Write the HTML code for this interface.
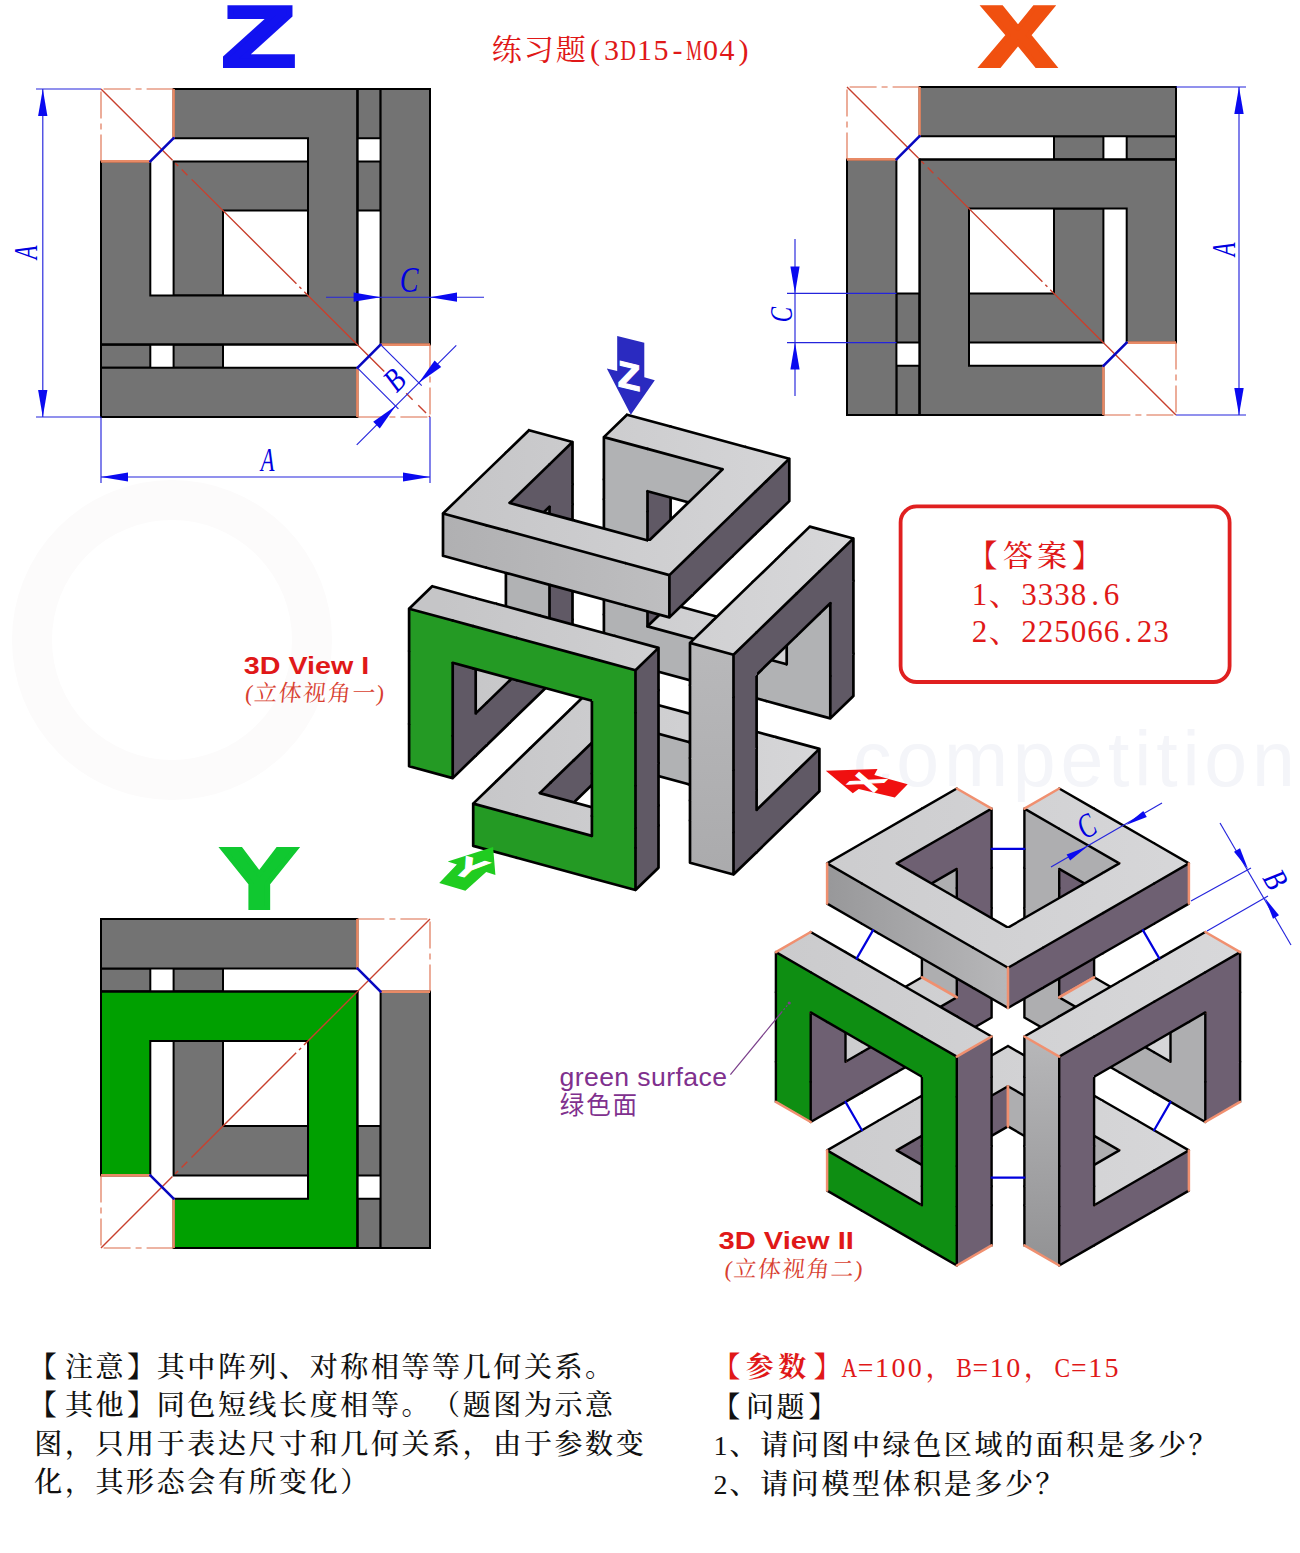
<!DOCTYPE html>
<html lang="zh"><head><meta charset="utf-8"><title>练习题(3D15-M04)</title>
<style>html,body{margin:0;padding:0;background:#fff}svg{display:block}</style></head>
<body><svg width="1300" height="1553" viewBox="0 0 1300 1553">
<rect width="1300" height="1553" fill="#fff"/>
<g id="wm" fill="#f5f6fa">
<circle cx="172" cy="640" r="140" fill="none" stroke="#fcfbfb" stroke-width="40"/>
<text x="853" y="786" font-family="'Liberation Sans',sans-serif" font-size="77" letter-spacing="4.8" fill="#f4f5f9">competition</text>
</g>
<g id="zview">
<polygon points="173.6,161.4 308,161.4 308,210.6 223,210.6 223,295.4 173.6,295.4" fill="#737373" stroke="#000" stroke-width="2.0" stroke-linejoin="miter"/>
<polygon points="357.4,89 380.6,89 380.6,138.2 357.4,138.2" fill="#737373" stroke="#000" stroke-width="2.0" stroke-linejoin="miter"/>
<polygon points="101,344.6 101,367.8 150.3,367.8 150.3,344.6" fill="#737373" stroke="#000" stroke-width="2.0" stroke-linejoin="miter"/>
<polygon points="357.4,161.4 380.6,161.4 380.6,210.6 357.4,210.6" fill="#737373" stroke="#000" stroke-width="2.0" stroke-linejoin="miter"/>
<polygon points="173.6,344.6 173.6,367.8 223,367.8 223,344.6" fill="#737373" stroke="#000" stroke-width="2.0" stroke-linejoin="miter"/>
<polygon points="380.6,89 430,89 430,344.6 380.6,344.6" fill="#737373" stroke="#000" stroke-width="2.0" stroke-linejoin="miter"/>
<polygon points="101,367.8 101,417 357.4,417 357.4,367.8" fill="#737373" stroke="#000" stroke-width="2.0" stroke-linejoin="miter"/>
<polygon points="173.6,89 357.4,89 357.4,344.6 101,344.6 101,161.4 150.3,161.4 150.3,295.4 308,295.4 308,138.2 173.6,138.2" fill="#737373" stroke="#000" stroke-width="2.0" stroke-linejoin="miter"/>
<line x1="357.4" y1="89" x2="357.4" y2="344.6" stroke="#000" stroke-width="2.0" stroke-linecap="square"/>
<line x1="101" y1="344.6" x2="357.4" y2="344.6" stroke="#000" stroke-width="2.0" stroke-linecap="square"/>
<line x1="173.6" y1="89" x2="173.6" y2="138.2" stroke="#e88a66" stroke-width="2.6" stroke-linecap="butt"/>
<line x1="101" y1="161.4" x2="150.3" y2="161.4" stroke="#e88a66" stroke-width="2.6" stroke-linecap="butt"/>
<line x1="380.6" y1="344.6" x2="430" y2="344.6" stroke="#e88a66" stroke-width="2.6" stroke-linecap="butt"/>
<line x1="357.4" y1="367.8" x2="357.4" y2="417" stroke="#e88a66" stroke-width="2.6" stroke-linecap="butt"/>
<line x1="173.6" y1="89" x2="101" y2="89" stroke="#dc6a48" stroke-width="1.1" stroke-dasharray="27 5 6 5" stroke-linecap="butt"/>
<line x1="101" y1="161.4" x2="101" y2="89" stroke="#dc6a48" stroke-width="1.1" stroke-dasharray="27 5 6 5" stroke-linecap="butt"/>
<line x1="430" y1="344.6" x2="430" y2="417" stroke="#dc6a48" stroke-width="1.1" stroke-dasharray="27 5 6 5" stroke-linecap="butt"/>
<line x1="357.4" y1="417" x2="430" y2="417" stroke="#dc6a48" stroke-width="1.1" stroke-dasharray="27 5 6 5" stroke-linecap="butt"/>
<line x1="101" y1="89" x2="430" y2="417" stroke="#c8402e" stroke-width="1.4" stroke-dasharray="101 4 4 5 8 6 148 4 3 4 113 31 9 8 11 4 2 100" stroke-linecap="butt"/>
<line x1="150.3" y1="161.4" x2="173.6" y2="138.2" stroke="#0808c0" stroke-width="2.6" stroke-linecap="round"/>
<line x1="357.4" y1="367.8" x2="380.6" y2="344.6" stroke="#0808c0" stroke-width="2.6" stroke-linecap="round"/>
</g>
<g id="xview">
<polygon points="1103.4,342.6 969,342.6 969,293.4 1054,293.4 1054,208.6 1103.4,208.6" fill="#737373" stroke="#000" stroke-width="2.0" stroke-linejoin="miter"/>
<polygon points="919.6,415 896.4,415 896.4,365.8 919.6,365.8" fill="#737373" stroke="#000" stroke-width="2.0" stroke-linejoin="miter"/>
<polygon points="1176,159.4 1176,136.2 1126.7,136.2 1126.7,159.4" fill="#737373" stroke="#000" stroke-width="2.0" stroke-linejoin="miter"/>
<polygon points="919.6,342.6 896.4,342.6 896.4,293.4 919.6,293.4" fill="#737373" stroke="#000" stroke-width="2.0" stroke-linejoin="miter"/>
<polygon points="1103.4,159.4 1103.4,136.2 1054,136.2 1054,159.4" fill="#737373" stroke="#000" stroke-width="2.0" stroke-linejoin="miter"/>
<polygon points="896.4,415 847,415 847,159.4 896.4,159.4" fill="#737373" stroke="#000" stroke-width="2.0" stroke-linejoin="miter"/>
<polygon points="1176,136.2 1176,87 919.6,87 919.6,136.2" fill="#737373" stroke="#000" stroke-width="2.0" stroke-linejoin="miter"/>
<polygon points="1103.4,415 919.6,415 919.6,159.4 1176,159.4 1176,342.6 1126.7,342.6 1126.7,208.6 969,208.6 969,365.8 1103.4,365.8" fill="#737373" stroke="#000" stroke-width="2.0" stroke-linejoin="miter"/>
<line x1="919.6" y1="415" x2="919.6" y2="159.4" stroke="#000" stroke-width="2.0" stroke-linecap="square"/>
<line x1="1176" y1="159.4" x2="919.6" y2="159.4" stroke="#000" stroke-width="2.0" stroke-linecap="square"/>
<line x1="1103.4" y1="415" x2="1103.4" y2="365.8" stroke="#e88a66" stroke-width="2.6" stroke-linecap="butt"/>
<line x1="1176" y1="342.6" x2="1126.7" y2="342.6" stroke="#e88a66" stroke-width="2.6" stroke-linecap="butt"/>
<line x1="896.4" y1="159.4" x2="847" y2="159.4" stroke="#e88a66" stroke-width="2.6" stroke-linecap="butt"/>
<line x1="919.6" y1="136.2" x2="919.6" y2="87" stroke="#e88a66" stroke-width="2.6" stroke-linecap="butt"/>
<line x1="1103.4" y1="415" x2="1176" y2="415" stroke="#dc6a48" stroke-width="1.1" stroke-dasharray="27 5 6 5" stroke-linecap="butt"/>
<line x1="1176" y1="342.6" x2="1176" y2="415" stroke="#dc6a48" stroke-width="1.1" stroke-dasharray="27 5 6 5" stroke-linecap="butt"/>
<line x1="847" y1="159.4" x2="847" y2="87" stroke="#dc6a48" stroke-width="1.1" stroke-dasharray="27 5 6 5" stroke-linecap="butt"/>
<line x1="919.6" y1="87" x2="847" y2="87" stroke="#dc6a48" stroke-width="1.1" stroke-dasharray="27 5 6 5" stroke-linecap="butt"/>
<line x1="847" y1="87" x2="1176" y2="415" stroke="#c8402e" stroke-width="1.4" stroke-dasharray="101 4 4 5 8 6 148 4 3 4 300" stroke-linecap="butt"/>
<line x1="1126.7" y1="342.6" x2="1103.4" y2="365.8" stroke="#0808c0" stroke-width="2.6" stroke-linecap="round"/>
<line x1="919.6" y1="136.2" x2="896.4" y2="159.4" stroke="#0808c0" stroke-width="2.6" stroke-linecap="round"/>
</g>
<g id="yview">
<polygon points="173.6,1175.4 308,1175.4 308,1126 223,1126 223,1041 173.6,1041" fill="#737373" stroke="#000" stroke-width="2.0" stroke-linejoin="miter"/>
<polygon points="357.4,1248 380.6,1248 380.6,1198.7 357.4,1198.7" fill="#737373" stroke="#000" stroke-width="2.0" stroke-linejoin="miter"/>
<polygon points="101,991.6 101,968.4 150.3,968.4 150.3,991.6" fill="#737373" stroke="#000" stroke-width="2.0" stroke-linejoin="miter"/>
<polygon points="357.4,1175.4 380.6,1175.4 380.6,1126 357.4,1126" fill="#737373" stroke="#000" stroke-width="2.0" stroke-linejoin="miter"/>
<polygon points="173.6,991.6 173.6,968.4 223,968.4 223,991.6" fill="#737373" stroke="#000" stroke-width="2.0" stroke-linejoin="miter"/>
<polygon points="380.6,1248 430,1248 430,991.6 380.6,991.6" fill="#737373" stroke="#000" stroke-width="2.0" stroke-linejoin="miter"/>
<polygon points="101,968.4 101,919 357.4,919 357.4,968.4" fill="#737373" stroke="#000" stroke-width="2.0" stroke-linejoin="miter"/>
<polygon points="173.6,1248 357.4,1248 357.4,991.6 101,991.6 101,1175.4 150.3,1175.4 150.3,1041 308,1041 308,1198.7 173.6,1198.7" fill="#00a000" stroke="#000" stroke-width="2.0" stroke-linejoin="miter"/>
<line x1="357.4" y1="1248" x2="357.4" y2="991.6" stroke="#000" stroke-width="2.0" stroke-linecap="square"/>
<line x1="101" y1="991.6" x2="357.4" y2="991.6" stroke="#000" stroke-width="2.0" stroke-linecap="square"/>
<line x1="173.6" y1="1248" x2="173.6" y2="1198.7" stroke="#e88a66" stroke-width="2.6" stroke-linecap="butt"/>
<line x1="101" y1="1175.4" x2="150.3" y2="1175.4" stroke="#e88a66" stroke-width="2.6" stroke-linecap="butt"/>
<line x1="380.6" y1="991.6" x2="430" y2="991.6" stroke="#e88a66" stroke-width="2.6" stroke-linecap="butt"/>
<line x1="357.4" y1="968.4" x2="357.4" y2="919" stroke="#e88a66" stroke-width="2.6" stroke-linecap="butt"/>
<line x1="173.6" y1="1248" x2="101" y2="1248" stroke="#dc6a48" stroke-width="1.1" stroke-dasharray="27 5 6 5" stroke-linecap="butt"/>
<line x1="101" y1="1175.4" x2="101" y2="1248" stroke="#dc6a48" stroke-width="1.1" stroke-dasharray="27 5 6 5" stroke-linecap="butt"/>
<line x1="430" y1="991.6" x2="430" y2="919" stroke="#dc6a48" stroke-width="1.1" stroke-dasharray="27 5 6 5" stroke-linecap="butt"/>
<line x1="357.4" y1="919" x2="430" y2="919" stroke="#dc6a48" stroke-width="1.1" stroke-dasharray="27 5 6 5" stroke-linecap="butt"/>
<line x1="101" y1="1248" x2="430" y2="919" stroke="#c8402e" stroke-width="1.4" stroke-dasharray="101 4 4 5 8 6 148 4 3 4 300" stroke-linecap="butt"/>
<line x1="150.3" y1="1175.4" x2="173.6" y2="1198.7" stroke="#0808c0" stroke-width="2.6" stroke-linecap="round"/>
<line x1="357.4" y1="968.4" x2="380.6" y2="991.6" stroke="#0808c0" stroke-width="2.6" stroke-linecap="round"/>
</g>
<g id="zdim">
<line x1="36" y1="89" x2="101" y2="89" stroke="#2424dc" stroke-width="1.15" />
<line x1="36" y1="417" x2="101" y2="417" stroke="#2424dc" stroke-width="1.15" />
<line x1="42.8" y1="89" x2="42.8" y2="417" stroke="#2424dc" stroke-width="1.15" />
<polygon points="42.8,89 47.4,116 38.1,116" fill="#0a0af0"/>
<polygon points="42.8,417 38.1,390 47.4,390" fill="#0a0af0"/>
<text transform="translate(36.8 252.4) rotate(-90) scale(0.68 1)" font-family="'Liberation Serif',serif" font-style="italic" font-size="33" fill="#0000e0" text-anchor="middle">A</text>
<line x1="101" y1="417" x2="101" y2="483" stroke="#2424dc" stroke-width="1.15" />
<line x1="430" y1="417" x2="430" y2="483" stroke="#2424dc" stroke-width="1.15" />
<line x1="101" y1="477" x2="430" y2="477" stroke="#2424dc" stroke-width="1.15" />
<polygon points="101,477 128,472.4 128,481.6" fill="#0a0af0"/>
<polygon points="430,477 403,481.6 403,472.4" fill="#0a0af0"/>
<text transform="translate(267.5 471) rotate(0) scale(0.68 1)" font-family="'Liberation Serif',serif" font-style="italic" font-size="33" fill="#0000e0" text-anchor="middle">A</text>
<line x1="326" y1="297.2" x2="484" y2="297.2" stroke="#2424dc" stroke-width="1.15" />
<polygon points="380.6,297.2 353.6,301.8 353.6,292.6" fill="#0a0af0"/>
<polygon points="430,297.2 457,292.6 457,301.8" fill="#0a0af0"/>
<text transform="translate(409 292) rotate(0) scale(0.8 1)" font-family="'Liberation Serif',serif" font-style="italic" font-size="35" fill="#0000e0" text-anchor="middle">C</text>
<line x1="357.4" y1="367.8" x2="398.4" y2="408.8" stroke="#2424dc" stroke-width="1.15" />
<line x1="380.6" y1="344.6" x2="421.7" y2="385.6" stroke="#2424dc" stroke-width="1.15" />
<line x1="356.7" y1="444.9" x2="456.3" y2="345.3" stroke="#2424dc" stroke-width="1.15" />
<polygon points="395.6,406 379.8,428.4 373.2,421.8" fill="#0a0af0"/>
<polygon points="418.8,382.8 434.6,360.4 441.2,367" fill="#0a0af0"/>
<text transform="translate(402.2 387.9) rotate(-45) scale(0.8 1)" font-family="'Liberation Serif',serif" font-style="italic" font-size="33" fill="#0000e0" text-anchor="middle">B</text>
</g>
<g id="xdim">
<line x1="1176" y1="87" x2="1246" y2="87" stroke="#2424dc" stroke-width="1.15" />
<line x1="1176" y1="415" x2="1246" y2="415" stroke="#2424dc" stroke-width="1.15" />
<line x1="1239" y1="87" x2="1239" y2="415" stroke="#2424dc" stroke-width="1.15" />
<polygon points="1239,87 1243.7,114 1234.3,114" fill="#0a0af0"/>
<polygon points="1239,415 1234.3,388 1243.7,388" fill="#0a0af0"/>
<text transform="translate(1235.4 249.4) rotate(-90) scale(0.68 1)" font-family="'Liberation Serif',serif" font-style="italic" font-size="33" fill="#0000e0" text-anchor="middle">A</text>
<line x1="787" y1="293.4" x2="896.4" y2="293.4" stroke="#2424dc" stroke-width="1.15" />
<line x1="787" y1="342.6" x2="896.4" y2="342.6" stroke="#2424dc" stroke-width="1.15" />
<line x1="795" y1="239" x2="795" y2="396" stroke="#2424dc" stroke-width="1.15" />
<polygon points="795,293.4 790.4,266.4 799.6,266.4" fill="#0a0af0"/>
<polygon points="795,342.6 799.6,369.6 790.4,369.6" fill="#0a0af0"/>
<text transform="translate(792 314.5) rotate(-90) scale(0.72 1)" font-family="'Liberation Serif',serif" font-style="italic" font-size="32" fill="#0000e0" text-anchor="middle">C</text>
</g>
<defs>
<linearGradient id="g1t" gradientUnits="userSpaceOnUse" x1="440" y1="0" x2="860" y2="0"><stop offset="0" stop-color="#c5c5c7"/><stop offset="1" stop-color="#d8d8da"/></linearGradient>
<linearGradient id="g1v" gradientUnits="userSpaceOnUse" x1="0" y1="420" x2="0" y2="900"><stop offset="0" stop-color="#c6c6c8"/><stop offset="1" stop-color="#a9a9ab"/></linearGradient>
<linearGradient id="g1w" gradientUnits="userSpaceOnUse" x1="443" y1="0" x2="670" y2="0"><stop offset="0" stop-color="#b0b0b2"/><stop offset="1" stop-color="#bebec0"/></linearGradient>
<linearGradient id="g2v" gradientUnits="userSpaceOnUse" x1="828" y1="0" x2="1008" y2="0"><stop offset="0" stop-color="#98989a"/><stop offset="1" stop-color="#b7b7b9"/></linearGradient>
<linearGradient id="g2x" gradientUnits="userSpaceOnUse" x1="0" y1="1045" x2="0" y2="1265"><stop offset="0" stop-color="#b6b6b8"/><stop offset="1" stop-color="#929294"/></linearGradient>
<linearGradient id="g2t" gradientUnits="userSpaceOnUse" x1="780" y1="0" x2="1240" y2="0"><stop offset="0" stop-color="#cbcbcd"/><stop offset="1" stop-color="#d8d8da"/></linearGradient>
</defs>
<g id="view1">
<g stroke-linecap="round" stroke-linejoin="round" shape-rendering="crispEdges">
<polygon points="572.5,661.8 549.5,684.2 549.5,641.9 572.5,619.5" fill="#605965"/>
<path d="M572.5 661.8L572.5 619.5M572.5 661.8L549.5 684.2" stroke="#000" stroke-width="2.7" fill="none" shape-rendering="geometricPrecision"/>
<polygon points="572.5,619.5 549.5,641.9 549.5,569 572.5,546.6" fill="#605965"/>
<polygon points="505.9,630 549.5,641.9 549.5,569 505.9,557.1" fill="#b1b2b4"/>
<path d="M572.5 619.5L572.5 546.6M549.5 641.9L549.5 569M505.9 630L505.9 557.1M549.5 641.9L549.5 569M505.9 630L549.5 641.9" stroke="#000" stroke-width="2.7" fill="none" shape-rendering="geometricPrecision"/>
<polygon points="572.5,546.6 549.5,569 549.5,526.7 572.5,504.3" fill="#605965"/>
<polygon points="505.9,557.1 549.5,569 549.5,526.7 505.9,514.8" fill="#b1b2b4"/>
<path d="M572.5 546.6L572.5 504.3M549.5 569L549.5 526.7M505.9 557.1L505.9 514.8M549.5 569L549.5 526.7" stroke="#000" stroke-width="2.7" fill="none" shape-rendering="geometricPrecision"/>
<polygon points="572.5,504.3 549.5,526.7 549.5,506.7 572.5,484.3" fill="#605965"/>
<polygon points="505.9,514.8 549.5,526.7 549.5,506.7 505.9,494.9" fill="#b1b2b4"/>
<path d="M572.5 504.3L572.5 484.3M549.5 526.7L549.5 506.7M505.9 514.8L505.9 494.9M549.5 526.7L549.5 506.7M505.9 494.9L549.5 506.7" stroke="#000" stroke-width="2.7" fill="none" shape-rendering="geometricPrecision"/>
<polygon points="572.5,484.3 549.5,506.7 549.5,464.4 572.5,442" fill="#605965"/>
<polygon points="529,430.2 572.5,442 549.5,464.4 505.9,452.6" fill="url(#g1t)"/>
<path d="M572.5 484.3L572.5 442M572.5 442L549.5 464.4M529 430.2L505.9 452.6M572.5 442L549.5 464.4M529 430.2L572.5 442" stroke="#000" stroke-width="2.7" fill="none" shape-rendering="geometricPrecision"/>
<polygon points="549.5,684.2 509.7,722.8 509.7,680.5 549.5,641.9" fill="#605965"/>
<polygon points="505.9,630 549.5,641.9 509.7,680.5 466.1,668.6" fill="url(#g1t)"/>
<path d="M549.5 684.2L509.7 722.8M549.5 641.9L509.7 680.5M505.9 630L466.1 668.6M549.5 641.9L509.7 680.5M505.9 630L549.5 641.9" stroke="#000" stroke-width="2.7" fill="none" shape-rendering="geometricPrecision"/>
<polygon points="549.5,506.7 509.7,545.3 509.7,503 549.5,464.4" fill="#605965"/>
<polygon points="505.9,452.6 549.5,464.4 509.7,503 466.1,491.1" fill="url(#g1t)"/>
<path d="M509.7 545.3L509.7 503M549.5 506.7L509.7 545.3M549.5 464.4L509.7 503M505.9 452.6L466.1 491.1M549.5 464.4L509.7 503" stroke="#000" stroke-width="2.7" fill="none" shape-rendering="geometricPrecision"/>
<polygon points="509.7,722.8 486.6,745.2 486.6,702.9 509.7,680.5" fill="#605965"/>
<polygon points="466.1,668.6 509.7,680.5 486.6,702.9 443,691" fill="url(#g1t)"/>
<path d="M509.7 722.8L486.6 745.2M509.7 680.5L486.6 702.9M466.1 668.6L443 691M509.7 680.5L486.6 702.9" stroke="#000" stroke-width="2.7" fill="none" shape-rendering="geometricPrecision"/>
<polygon points="443,555.8 486.6,567.7 486.6,525.4 443,513.5" fill="url(#g1w)"/>
<polygon points="466.1,491.1 509.7,503 486.6,525.4 443,513.5" fill="url(#g1t)"/>
<path d="M443 555.8L443 513.5M443 555.8L486.6 567.7M443 513.5L486.6 525.4M466.1 491.1L443 513.5M443 513.5L486.6 525.4" stroke="#000" stroke-width="2.7" fill="none" shape-rendering="geometricPrecision"/>
<polygon points="486.6,745.2 475.7,755.7 475.7,713.4 486.6,702.9" fill="#605965"/>
<polygon points="443,691 486.6,702.9 475.7,713.4 432.2,701.5" fill="url(#g1t)"/>
<path d="M486.6 745.2L475.7 755.7M486.6 702.9L475.7 713.4M443 691L432.2 701.5M486.6 702.9L475.7 713.4M432.2 701.5L475.7 713.4" stroke="#000" stroke-width="2.7" fill="none" shape-rendering="geometricPrecision"/>
<polygon points="475.7,755.7 452.7,778.1 452.7,735.8 475.7,713.4" fill="#605965"/>
<polygon points="409.1,766.2 452.7,778.1 452.7,735.8 409.1,723.9" fill="#249a24"/>
<path d="M452.7 778.1L452.7 735.8M475.7 755.7L452.7 778.1M409.1 766.2L409.1 723.9M452.7 778.1L452.7 735.8M409.1 766.2L452.7 778.1" stroke="#000" stroke-width="2.7" fill="none" shape-rendering="geometricPrecision"/>
<polygon points="475.7,713.4 452.7,735.8 452.7,662.8 475.7,640.5" fill="#605965"/>
<polygon points="409.1,723.9 452.7,735.8 452.7,662.8 409.1,651" fill="#249a24"/>
<path d="M475.7 713.4L475.7 640.5M452.7 735.8L452.7 662.8M475.7 640.5L452.7 662.8M409.1 723.9L409.1 651M452.7 735.8L452.7 662.8" stroke="#000" stroke-width="2.7" fill="none" shape-rendering="geometricPrecision"/>
<polygon points="409.1,651 452.7,662.8 452.7,620.5 409.1,608.7" fill="#249a24"/>
<polygon points="432.2,586.3 475.7,598.2 452.7,620.5 409.1,608.7" fill="url(#g1t)"/>
<path d="M409.1 651L409.1 608.7M409.1 608.7L452.7 620.5M432.2 586.3L409.1 608.7M432.2 586.3L475.7 598.2M409.1 608.7L452.7 620.5" stroke="#000" stroke-width="2.7" fill="none" shape-rendering="geometricPrecision"/>
<polygon points="486.6,567.7 507.1,573.2 507.1,530.9 486.6,525.4" fill="url(#g1w)"/>
<polygon points="509.7,503 530.2,508.6 507.1,530.9 486.6,525.4" fill="url(#g1t)"/>
<path d="M486.6 567.7L507.1 573.2M486.6 525.4L507.1 530.9M509.7 503L530.2 508.6M486.6 525.4L507.1 530.9" stroke="#000" stroke-width="2.7" fill="none" shape-rendering="geometricPrecision"/>
<polygon points="452.7,662.8 473.2,668.4 473.2,626.1 452.7,620.5" fill="#249a24"/>
<polygon points="475.7,598.2 496.3,603.7 473.2,626.1 452.7,620.5" fill="url(#g1t)"/>
<path d="M452.7 662.8L473.2 668.4M452.7 620.5L473.2 626.1M475.7 598.2L496.3 603.7M452.7 620.5L473.2 626.1" stroke="#000" stroke-width="2.7" fill="none" shape-rendering="geometricPrecision"/>
<polygon points="603.9,656.9 647.5,668.7 647.5,626.4 603.9,614.6" fill="#b1b2b4"/>
<path d="M603.9 656.9L603.9 614.6M603.9 656.9L647.5 668.7" stroke="#000" stroke-width="2.7" fill="none" shape-rendering="geometricPrecision"/>
<polygon points="670.6,604 647.5,626.4 647.5,553.5 670.6,531.1" fill="#605965"/>
<polygon points="603.9,614.6 647.5,626.4 647.5,553.5 603.9,541.6" fill="#b1b2b4"/>
<path d="M670.6 604L670.6 531.1M647.5 626.4L647.5 553.5M670.6 604L647.5 626.4M603.9 614.6L603.9 541.6M647.5 626.4L647.5 553.5" stroke="#000" stroke-width="2.7" fill="none" shape-rendering="geometricPrecision"/>
<polygon points="670.6,531.1 647.5,553.5 647.5,511.2 670.6,488.8" fill="#605965"/>
<polygon points="603.9,541.6 647.5,553.5 647.5,511.2 603.9,499.3" fill="#b1b2b4"/>
<path d="M670.6 531.1L670.6 488.8M647.5 553.5L647.5 511.2M603.9 541.6L603.9 499.3M647.5 553.5L647.5 511.2" stroke="#000" stroke-width="2.7" fill="none" shape-rendering="geometricPrecision"/>
<polygon points="670.6,488.8 647.5,511.2 647.5,491.2 670.6,468.8" fill="#605965"/>
<polygon points="603.9,499.3 647.5,511.2 647.5,491.2 603.9,479.4" fill="#b1b2b4"/>
<path d="M670.6 488.8L670.6 468.8M647.5 511.2L647.5 491.2M670.6 468.8L647.5 491.2M603.9 499.3L603.9 479.4M647.5 511.2L647.5 491.2" stroke="#000" stroke-width="2.7" fill="none" shape-rendering="geometricPrecision"/>
<polygon points="603.9,479.4 647.5,491.2 647.5,448.9 603.9,437.1" fill="#b1b2b4"/>
<polygon points="627,414.7 670.6,426.5 647.5,448.9 603.9,437.1" fill="url(#g1t)"/>
<path d="M603.9 479.4L603.9 437.1M603.9 437.1L647.5 448.9M627 414.7L603.9 437.1M627 414.7L670.6 426.5M603.9 437.1L647.5 448.9" stroke="#000" stroke-width="2.7" fill="none" shape-rendering="geometricPrecision"/>
<polygon points="593.1,687.3 636.6,699.2 613.6,721.6 570,709.7" fill="url(#g1t)"/>
<path d="M593.1 687.3L570 709.7M593.1 687.3L636.6 699.2" stroke="#000" stroke-width="2.7" fill="none" shape-rendering="geometricPrecision"/>
<polygon points="613.6,763.9 573.8,802.5 573.8,760.2 613.6,721.6" fill="#605965"/>
<polygon points="570,709.7 613.6,721.6 573.8,760.2 530.2,748.3" fill="url(#g1t)"/>
<path d="M613.6 763.9L613.6 721.6M613.6 763.9L573.8 802.5M613.6 721.6L573.8 760.2M570 709.7L530.2 748.3M613.6 721.6L573.8 760.2" stroke="#000" stroke-width="2.7" fill="none" shape-rendering="geometricPrecision"/>
<polygon points="573.8,802.5 550.7,824.8 550.7,782.5 573.8,760.2" fill="#605965"/>
<polygon points="530.2,748.3 573.8,760.2 550.7,782.5 507.1,770.7" fill="url(#g1t)"/>
<path d="M573.8 802.5L550.7 824.8M573.8 760.2L550.7 782.5M530.2 748.3L507.1 770.7M573.8 760.2L550.7 782.5" stroke="#000" stroke-width="2.7" fill="none" shape-rendering="geometricPrecision"/>
<polygon points="507.1,573.2 550.7,585.1 550.7,542.8 507.1,530.9" fill="url(#g1w)"/>
<polygon points="530.2,508.6 573.8,520.4 550.7,542.8 507.1,530.9" fill="url(#g1t)"/>
<path d="M507.1 573.2L550.7 585.1M507.1 530.9L550.7 542.8M530.2 508.6L573.8 520.4M507.1 530.9L550.7 542.8" stroke="#000" stroke-width="2.7" fill="none" shape-rendering="geometricPrecision"/>
<polygon points="550.7,824.8 539.8,835.4 539.8,793.1 550.7,782.5" fill="#605965"/>
<polygon points="507.1,770.7 550.7,782.5 539.8,793.1 496.3,781.2" fill="url(#g1t)"/>
<path d="M539.8 835.4L539.8 793.1M550.7 824.8L539.8 835.4M550.7 782.5L539.8 793.1M507.1 770.7L496.3 781.2M550.7 782.5L539.8 793.1" stroke="#000" stroke-width="2.7" fill="none" shape-rendering="geometricPrecision"/>
<polygon points="473.2,845.9 516.8,857.8 516.8,815.5 473.2,803.6" fill="#249a24"/>
<polygon points="496.3,781.2 539.8,793.1 516.8,815.5 473.2,803.6" fill="url(#g1t)"/>
<path d="M473.2 845.9L473.2 803.6M473.2 845.9L516.8 857.8M473.2 803.6L516.8 815.5M496.3 781.2L473.2 803.6M473.2 803.6L516.8 815.5" stroke="#000" stroke-width="2.7" fill="none" shape-rendering="geometricPrecision"/>
<polygon points="473.2,668.4 516.8,680.3 516.8,638 473.2,626.1" fill="#249a24"/>
<polygon points="496.3,603.7 539.8,615.6 516.8,638 473.2,626.1" fill="url(#g1t)"/>
<path d="M473.2 668.4L516.8 680.3M473.2 626.1L516.8 638M496.3 603.7L539.8 615.6M473.2 626.1L516.8 638" stroke="#000" stroke-width="2.7" fill="none" shape-rendering="geometricPrecision"/>
<polygon points="647.5,668.7 722.6,689.1 722.6,646.8 647.5,626.4" fill="#b1b2b4"/>
<polygon points="670.6,604 745.7,624.5 722.6,646.8 647.5,626.4" fill="url(#g1t)"/>
<path d="M647.5 668.7L722.6 689.1M647.5 626.4L722.6 646.8M670.6 604L647.5 626.4M670.6 604L745.7 624.5M647.5 626.4L722.6 646.8" stroke="#000" stroke-width="2.7" fill="none" shape-rendering="geometricPrecision"/>
<polygon points="647.5,491.2 722.6,511.6 722.6,469.3 647.5,448.9" fill="#b1b2b4"/>
<polygon points="670.6,426.5 745.7,447 722.6,469.3 647.5,448.9" fill="url(#g1t)"/>
<path d="M722.6 511.6L722.6 469.3M647.5 491.2L722.6 511.6M647.5 448.9L722.6 469.3M670.6 426.5L745.7 447M647.5 448.9L722.6 469.3" stroke="#000" stroke-width="2.7" fill="none" shape-rendering="geometricPrecision"/>
<polygon points="613.6,763.9 688.7,784.3 688.7,742 613.6,721.6" fill="#b1b2b4"/>
<polygon points="636.6,699.2 711.8,719.6 688.7,742 613.6,721.6" fill="url(#g1t)"/>
<path d="M613.6 763.9L613.6 721.6M613.6 763.9L688.7 784.3M613.6 721.6L688.7 742M636.6 699.2L711.8 719.6M613.6 721.6L688.7 742" stroke="#000" stroke-width="2.7" fill="none" shape-rendering="geometricPrecision"/>
<polygon points="550.7,585.1 625.8,605.5 625.8,563.2 550.7,542.8" fill="url(#g1w)"/>
<polygon points="573.8,520.4 648.9,540.8 625.8,563.2 550.7,542.8" fill="url(#g1t)"/>
<path d="M550.7 585.1L625.8 605.5M550.7 542.8L625.8 563.2M573.8 520.4L648.9 540.8M550.7 542.8L625.8 563.2" stroke="#000" stroke-width="2.7" fill="none" shape-rendering="geometricPrecision"/>
<polygon points="516.8,857.8 591.9,878.2 591.9,835.9 516.8,815.5" fill="#249a24"/>
<polygon points="539.8,793.1 615,813.5 591.9,835.9 516.8,815.5" fill="url(#g1t)"/>
<path d="M516.8 857.8L591.9 878.2M516.8 815.5L591.9 835.9M615 813.5L591.9 835.9M539.8 793.1L615 813.5M516.8 815.5L591.9 835.9" stroke="#000" stroke-width="2.7" fill="none" shape-rendering="geometricPrecision"/>
<polygon points="516.8,680.3 591.9,700.7 591.9,658.4 516.8,638" fill="#249a24"/>
<polygon points="539.8,615.6 615,636 591.9,658.4 516.8,638" fill="url(#g1t)"/>
<path d="M516.8 680.3L591.9 700.7M516.8 638L591.9 658.4M539.8 615.6L615 636M516.8 638L591.9 658.4" stroke="#000" stroke-width="2.7" fill="none" shape-rendering="geometricPrecision"/>
<polygon points="722.6,689.1 766.2,701 766.2,658.7 722.6,646.8" fill="#b1b2b4"/>
<polygon points="745.7,624.5 789.3,636.3 766.2,658.7 722.6,646.8" fill="url(#g1t)"/>
<path d="M722.6 689.1L766.2 701M722.6 646.8L766.2 658.7M745.7 624.5L789.3 636.3M722.6 646.8L766.2 658.7" stroke="#000" stroke-width="2.7" fill="none" shape-rendering="geometricPrecision"/>
<polygon points="789.3,501.1 766.2,523.5 766.2,481.2 789.3,458.8" fill="#605965"/>
<polygon points="745.7,447 789.3,458.8 766.2,481.2 722.6,469.3" fill="url(#g1t)"/>
<path d="M789.3 501.1L789.3 458.8M789.3 501.1L766.2 523.5M789.3 458.8L766.2 481.2M789.3 458.8L766.2 481.2M745.7 447L789.3 458.8" stroke="#000" stroke-width="2.7" fill="none" shape-rendering="geometricPrecision"/>
<polygon points="766.2,523.5 755.3,534 755.3,491.7 766.2,481.2" fill="#605965"/>
<polygon points="722.6,469.3 766.2,481.2 755.3,491.7 711.8,479.9" fill="url(#g1t)"/>
<path d="M766.2 523.5L755.3 534M766.2 481.2L755.3 491.7M722.6 469.3L711.8 479.9M766.2 481.2L755.3 491.7" stroke="#000" stroke-width="2.7" fill="none" shape-rendering="geometricPrecision"/>
<polygon points="688.7,784.3 732.3,796.2 732.3,753.8 688.7,742" fill="#b1b2b4"/>
<polygon points="711.8,719.6 755.3,731.5 732.3,753.8 688.7,742" fill="url(#g1t)"/>
<path d="M688.7 784.3L732.3 796.2M688.7 742L732.3 753.8M711.8 719.6L755.3 731.5M688.7 742L732.3 753.8" stroke="#000" stroke-width="2.7" fill="none" shape-rendering="geometricPrecision"/>
<polygon points="755.3,534 732.3,556.4 732.3,514.1 755.3,491.7" fill="#605965"/>
<polygon points="711.8,479.9 755.3,491.7 732.3,514.1 688.7,502.3" fill="url(#g1t)"/>
<path d="M755.3 534L732.3 556.4M755.3 491.7L732.3 514.1M711.8 479.9L688.7 502.3M755.3 491.7L732.3 514.1" stroke="#000" stroke-width="2.7" fill="none" shape-rendering="geometricPrecision"/>
<polygon points="732.3,556.4 692.5,595 692.5,552.7 732.3,514.1" fill="#605965"/>
<polygon points="688.7,502.3 732.3,514.1 692.5,552.7 648.9,540.8" fill="url(#g1t)"/>
<path d="M732.3 556.4L692.5 595M732.3 514.1L692.5 552.7M688.7 502.3L648.9 540.8M732.3 514.1L692.5 552.7" stroke="#000" stroke-width="2.7" fill="none" shape-rendering="geometricPrecision"/>
<polygon points="692.5,595 669.4,617.4 669.4,575.1 692.5,552.7" fill="#605965"/>
<polygon points="625.8,605.5 669.4,617.4 669.4,575.1 625.8,563.2" fill="url(#g1w)"/>
<polygon points="648.9,540.8 692.5,552.7 669.4,575.1 625.8,563.2" fill="url(#g1t)"/>
<path d="M669.4 617.4L669.4 575.1M692.5 595L669.4 617.4M692.5 552.7L669.4 575.1M669.4 617.4L669.4 575.1M625.8 605.5L669.4 617.4M625.8 563.2L669.4 575.1M692.5 552.7L669.4 575.1M625.8 563.2L669.4 575.1" stroke="#000" stroke-width="2.7" fill="none" shape-rendering="geometricPrecision"/>
<polygon points="658.5,867.7 635.5,890 635.5,847.7 658.5,825.4" fill="#605965"/>
<polygon points="591.9,878.2 635.5,890 635.5,847.7 591.9,835.9" fill="#249a24"/>
<path d="M658.5 867.7L658.5 825.4M635.5 890L635.5 847.7M658.5 867.7L635.5 890M635.5 890L635.5 847.7M591.9 878.2L635.5 890" stroke="#000" stroke-width="2.7" fill="none" shape-rendering="geometricPrecision"/>
<polygon points="658.5,825.4 635.5,847.7 635.5,827.8 658.5,805.4" fill="#605965"/>
<polygon points="591.9,835.9 635.5,847.7 635.5,827.8 591.9,815.9" fill="#249a24"/>
<path d="M658.5 825.4L658.5 805.4M635.5 847.7L635.5 827.8M591.9 835.9L591.9 815.9M635.5 847.7L635.5 827.8" stroke="#000" stroke-width="2.7" fill="none" shape-rendering="geometricPrecision"/>
<polygon points="658.5,805.4 635.5,827.8 635.5,785.5 658.5,763.1" fill="#605965"/>
<polygon points="591.9,815.9 635.5,827.8 635.5,785.5 591.9,773.6" fill="#249a24"/>
<path d="M658.5 805.4L658.5 763.1M635.5 827.8L635.5 785.5M591.9 815.9L591.9 773.6M635.5 827.8L635.5 785.5" stroke="#000" stroke-width="2.7" fill="none" shape-rendering="geometricPrecision"/>
<polygon points="658.5,763.1 635.5,785.5 635.5,712.5 658.5,690.2" fill="#605965"/>
<polygon points="591.9,773.6 635.5,785.5 635.5,712.5 591.9,700.7" fill="#249a24"/>
<path d="M658.5 763.1L658.5 690.2M635.5 785.5L635.5 712.5M591.9 773.6L591.9 700.7M635.5 785.5L635.5 712.5" stroke="#000" stroke-width="2.7" fill="none" shape-rendering="geometricPrecision"/>
<polygon points="658.5,690.2 635.5,712.5 635.5,670.2 658.5,647.9" fill="#605965"/>
<polygon points="591.9,700.7 635.5,712.5 635.5,670.2 591.9,658.4" fill="#249a24"/>
<polygon points="615,636 658.5,647.9 635.5,670.2 591.9,658.4" fill="url(#g1t)"/>
<path d="M658.5 690.2L658.5 647.9M635.5 712.5L635.5 670.2M658.5 647.9L635.5 670.2M635.5 712.5L635.5 670.2M591.9 658.4L635.5 670.2M658.5 647.9L635.5 670.2M615 636L658.5 647.9M591.9 658.4L635.5 670.2" stroke="#000" stroke-width="2.7" fill="none" shape-rendering="geometricPrecision"/>
<polygon points="766.2,701 786.7,706.6 786.7,664.3 766.2,658.7" fill="#b1b2b4"/>
<polygon points="789.3,636.3 809.8,641.9 786.7,664.3 766.2,658.7" fill="url(#g1t)"/>
<path d="M766.2 701L786.7 706.6M766.2 658.7L786.7 664.3M809.8 641.9L786.7 664.3M789.3 636.3L809.8 641.9M766.2 658.7L786.7 664.3" stroke="#000" stroke-width="2.7" fill="none" shape-rendering="geometricPrecision"/>
<polygon points="732.3,796.2 752.8,801.7 752.8,759.4 732.3,753.8" fill="#b1b2b4"/>
<polygon points="755.3,731.5 775.9,737.1 752.8,759.4 732.3,753.8" fill="url(#g1t)"/>
<path d="M752.8 801.7L752.8 759.4M732.3 796.2L752.8 801.7M732.3 753.8L752.8 759.4M755.3 731.5L775.9 737.1M732.3 753.8L752.8 759.4" stroke="#000" stroke-width="2.7" fill="none" shape-rendering="geometricPrecision"/>
<polygon points="853.4,696 830.3,718.4 830.3,676.1 853.4,653.7" fill="#605965"/>
<polygon points="786.7,706.6 830.3,718.4 830.3,676.1 786.7,664.3" fill="#b1b2b4"/>
<path d="M853.4 696L853.4 653.7M830.3 718.4L830.3 676.1M853.4 696L830.3 718.4M830.3 718.4L830.3 676.1M786.7 706.6L830.3 718.4" stroke="#000" stroke-width="2.7" fill="none" shape-rendering="geometricPrecision"/>
<polygon points="853.4,653.7 830.3,676.1 830.3,603.2 853.4,580.8" fill="#605965"/>
<polygon points="786.7,664.3 830.3,676.1 830.3,603.2 786.7,591.3" fill="#b1b2b4"/>
<path d="M853.4 653.7L853.4 580.8M830.3 676.1L830.3 603.2M786.7 664.3L786.7 591.3M830.3 676.1L830.3 603.2M786.7 591.3L830.3 603.2" stroke="#000" stroke-width="2.7" fill="none" shape-rendering="geometricPrecision"/>
<polygon points="853.4,580.8 830.3,603.2 830.3,560.9 853.4,538.5" fill="#605965"/>
<polygon points="809.8,526.6 853.4,538.5 830.3,560.9 786.7,549" fill="url(#g1t)"/>
<path d="M853.4 580.8L853.4 538.5M853.4 538.5L830.3 560.9M809.8 526.6L786.7 549M853.4 538.5L830.3 560.9M809.8 526.6L853.4 538.5" stroke="#000" stroke-width="2.7" fill="none" shape-rendering="geometricPrecision"/>
<polygon points="830.3,603.2 819.4,613.7 819.4,571.4 830.3,560.9" fill="#605965"/>
<polygon points="786.7,549 830.3,560.9 819.4,571.4 775.9,559.6" fill="url(#g1t)"/>
<path d="M830.3 603.2L819.4 613.7M830.3 560.9L819.4 571.4M786.7 549L775.9 559.6M830.3 560.9L819.4 571.4" stroke="#000" stroke-width="2.7" fill="none" shape-rendering="geometricPrecision"/>
<polygon points="819.4,791.2 796.4,813.6 796.4,771.3 819.4,748.9" fill="#605965"/>
<polygon points="775.9,737.1 819.4,748.9 796.4,771.3 752.8,759.4" fill="url(#g1t)"/>
<path d="M819.4 791.2L819.4 748.9M819.4 791.2L796.4 813.6M819.4 748.9L796.4 771.3M819.4 748.9L796.4 771.3M775.9 737.1L819.4 748.9" stroke="#000" stroke-width="2.7" fill="none" shape-rendering="geometricPrecision"/>
<polygon points="819.4,613.7 796.4,636.1 796.4,593.8 819.4,571.4" fill="#605965"/>
<polygon points="775.9,559.6 819.4,571.4 796.4,593.8 752.8,581.9" fill="url(#g1t)"/>
<path d="M819.4 613.7L796.4 636.1M819.4 571.4L796.4 593.8M775.9 559.6L752.8 581.9M819.4 571.4L796.4 593.8" stroke="#000" stroke-width="2.7" fill="none" shape-rendering="geometricPrecision"/>
<polygon points="796.4,813.6 756.6,852.2 756.6,809.9 796.4,771.3" fill="#605965"/>
<polygon points="752.8,759.4 796.4,771.3 756.6,809.9 713,798" fill="url(#g1t)"/>
<path d="M796.4 813.6L756.6 852.2M796.4 771.3L756.6 809.9M752.8 759.4L713 798M796.4 771.3L756.6 809.9M713 798L756.6 809.9" stroke="#000" stroke-width="2.7" fill="none" shape-rendering="geometricPrecision"/>
<polygon points="796.4,636.1 756.6,674.7 756.6,632.4 796.4,593.8" fill="#605965"/>
<polygon points="752.8,581.9 796.4,593.8 756.6,632.4 713,620.5" fill="url(#g1t)"/>
<path d="M796.4 636.1L756.6 674.7M796.4 593.8L756.6 632.4M752.8 581.9L713 620.5M796.4 593.8L756.6 632.4" stroke="#000" stroke-width="2.7" fill="none" shape-rendering="geometricPrecision"/>
<polygon points="756.6,852.2 733.5,874.5 733.5,832.2 756.6,809.9" fill="#605965"/>
<polygon points="690,862.7 733.5,874.5 733.5,832.2 690,820.4" fill="url(#g1v)"/>
<path d="M733.5 874.5L733.5 832.2M756.6 852.2L733.5 874.5M690 862.7L690 820.4M733.5 874.5L733.5 832.2M690 862.7L733.5 874.5" stroke="#000" stroke-width="2.7" fill="none" shape-rendering="geometricPrecision"/>
<polygon points="756.6,809.9 733.5,832.2 733.5,812.3 756.6,789.9" fill="#605965"/>
<polygon points="690,820.4 733.5,832.2 733.5,812.3 690,800.4" fill="url(#g1v)"/>
<path d="M756.6 809.9L756.6 789.9M733.5 832.2L733.5 812.3M690 820.4L690 800.4M733.5 832.2L733.5 812.3" stroke="#000" stroke-width="2.7" fill="none" shape-rendering="geometricPrecision"/>
<polygon points="756.6,789.9 733.5,812.3 733.5,770 756.6,747.6" fill="#605965"/>
<polygon points="690,800.4 733.5,812.3 733.5,770 690,758.1" fill="url(#g1v)"/>
<path d="M756.6 789.9L756.6 747.6M733.5 812.3L733.5 770M690 800.4L690 758.1M733.5 812.3L733.5 770" stroke="#000" stroke-width="2.7" fill="none" shape-rendering="geometricPrecision"/>
<polygon points="756.6,747.6 733.5,770 733.5,697.1 756.6,674.7" fill="#605965"/>
<polygon points="690,758.1 733.5,770 733.5,697.1 690,685.2" fill="url(#g1v)"/>
<path d="M756.6 747.6L756.6 674.7M733.5 770L733.5 697.1M690 758.1L690 685.2M733.5 770L733.5 697.1" stroke="#000" stroke-width="2.7" fill="none" shape-rendering="geometricPrecision"/>
<polygon points="756.6,674.7 733.5,697.1 733.5,654.7 756.6,632.4" fill="#605965"/>
<polygon points="690,685.2 733.5,697.1 733.5,654.7 690,642.9" fill="url(#g1v)"/>
<polygon points="713,620.5 756.6,632.4 733.5,654.7 690,642.9" fill="url(#g1t)"/>
<path d="M733.5 697.1L733.5 654.7M756.6 632.4L733.5 654.7M690 685.2L690 642.9M733.5 697.1L733.5 654.7M690 642.9L733.5 654.7M713 620.5L690 642.9M756.6 632.4L733.5 654.7M690 642.9L733.5 654.7" stroke="#000" stroke-width="2.7" fill="none" shape-rendering="geometricPrecision"/>
</g>
</g>
<g id="view2">
<g stroke-linecap="round" stroke-linejoin="round" shape-rendering="crispEdges">
<polygon points="991.6,1017.5 956.8,1037.6 956.8,997.4 991.6,977.3" fill="#6e6072"/>
<path d="M991.6 1017.5L991.6 977.3M991.6 1017.5L956.8 1037.6" stroke="#000" stroke-width="2.4" fill="none" shape-rendering="geometricPrecision"/>
<polygon points="991.6,977.3 956.8,997.4 956.8,928.1 991.6,908" fill="#6e6072"/>
<polygon points="921.9,977.3 956.8,997.4 956.8,928.1 921.9,908" fill="#aeaeb0"/>
<path d="M991.6 977.3L991.6 908M956.8 997.4L956.8 928.1M921.9 977.3L921.9 908M956.8 997.4L956.8 928.1" stroke="#000" stroke-width="2.4" fill="none" shape-rendering="geometricPrecision"/>
<path d="M921.9 977.3L956.8 997.4" stroke="#f09070" stroke-width="2.5" fill="none" shape-rendering="geometricPrecision"/>
<polygon points="991.6,908 956.8,928.1 956.8,887.9 991.6,867.8" fill="#6e6072"/>
<polygon points="921.9,908 956.8,928.1 956.8,887.9 921.9,867.8" fill="#aeaeb0"/>
<path d="M991.6 908L991.6 867.8M956.8 928.1L956.8 887.9M921.9 908L921.9 867.8M956.8 928.1L956.8 887.9" stroke="#000" stroke-width="2.4" fill="none" shape-rendering="geometricPrecision"/>
<polygon points="991.6,867.8 956.8,887.9 956.8,868.9 991.6,848.8" fill="#6e6072"/>
<polygon points="921.9,867.8 956.8,887.9 956.8,868.9 921.9,848.8" fill="#aeaeb0"/>
<path d="M991.6 867.8L991.6 848.8M956.8 887.9L956.8 868.9M921.9 867.8L921.9 848.8M956.8 887.9L956.8 868.9" stroke="#000" stroke-width="2.4" fill="none" shape-rendering="geometricPrecision"/>
<path d="M921.9 848.8L956.8 868.9" stroke="#f09070" stroke-width="2.5" fill="none" shape-rendering="geometricPrecision"/>
<polygon points="991.6,848.8 956.8,868.9 956.8,828.7 991.6,808.6" fill="#6e6072"/>
<polygon points="956.8,788.5 991.6,808.6 956.8,828.7 921.9,808.6" fill="url(#g2t)"/>
<path d="M991.6 848.8L991.6 808.6M991.6 808.6L956.8 828.7M956.8 788.5L921.9 808.6M991.6 808.6L956.8 828.7" stroke="#000" stroke-width="2.4" fill="none" shape-rendering="geometricPrecision"/>
<path d="M956.8 788.5L991.6 808.6" stroke="#f09070" stroke-width="2.5" fill="none" shape-rendering="geometricPrecision"/>
<polygon points="956.8,1037.6 896.7,1072.3 896.7,1032.1 956.8,997.4" fill="#6e6072"/>
<polygon points="921.9,977.3 956.8,997.4 896.7,1032.1 861.9,1012" fill="url(#g2t)"/>
<path d="M956.8 1037.6L896.7 1072.3M956.8 997.4L896.7 1032.1M921.9 977.3L861.9 1012M956.8 997.4L896.7 1032.1" stroke="#000" stroke-width="2.4" fill="none" shape-rendering="geometricPrecision"/>
<path d="M921.9 977.3L956.8 997.4" stroke="#f09070" stroke-width="2.5" fill="none" shape-rendering="geometricPrecision"/>
<polygon points="956.8,868.9 896.7,903.6 896.7,863.4 956.8,828.7" fill="#6e6072"/>
<polygon points="921.9,808.6 956.8,828.7 896.7,863.4 861.9,843.3" fill="url(#g2t)"/>
<path d="M956.8 868.9L896.7 903.6M956.8 828.7L896.7 863.4M921.9 808.6L861.9 843.3M956.8 828.7L896.7 863.4" stroke="#000" stroke-width="2.4" fill="none" shape-rendering="geometricPrecision"/>
<path d="M896.7 903.6L896.7 863.4" stroke="#f09070" stroke-width="2.5" fill="none" shape-rendering="geometricPrecision"/>
<polygon points="896.7,1072.3 861.9,1092.4 861.9,1052.2 896.7,1032.1" fill="#6e6072"/>
<polygon points="861.9,1012 896.7,1032.1 861.9,1052.2 827.1,1032.1" fill="url(#g2t)"/>
<path d="M896.7 1072.3L861.9 1092.4M896.7 1032.1L861.9 1052.2M861.9 1012L827.1 1032.1M896.7 1032.1L861.9 1052.2" stroke="#000" stroke-width="2.4" fill="none" shape-rendering="geometricPrecision"/>
<polygon points="827.1,903.6 861.9,923.7 861.9,883.5 827.1,863.4" fill="url(#g2v)"/>
<polygon points="861.9,843.3 896.7,863.4 861.9,883.5 827.1,863.4" fill="url(#g2t)"/>
<path d="M827.1 903.6L861.9 923.7M827.1 863.4L861.9 883.5M861.9 843.3L827.1 863.4M827.1 863.4L861.9 883.5" stroke="#000" stroke-width="2.4" fill="none" shape-rendering="geometricPrecision"/>
<path d="M827.1 903.6L827.1 863.4" stroke="#f09070" stroke-width="2.5" fill="none" shape-rendering="geometricPrecision"/>
<polygon points="861.9,1092.4 845.5,1101.9 845.5,1061.7 861.9,1052.2" fill="#6e6072"/>
<polygon points="827.1,1032.1 861.9,1052.2 845.5,1061.7 810.7,1041.6" fill="url(#g2t)"/>
<path d="M861.9 1092.4L845.5 1101.9M861.9 1052.2L845.5 1061.7M827.1 1032.1L810.7 1041.6M861.9 1052.2L845.5 1061.7" stroke="#000" stroke-width="2.4" fill="none" shape-rendering="geometricPrecision"/>
<path d="M810.7 1041.6L845.5 1061.7" stroke="#f09070" stroke-width="2.5" fill="none" shape-rendering="geometricPrecision"/>
<polygon points="845.5,1101.9 810.7,1122 810.7,1081.8 845.5,1061.7" fill="#6e6072"/>
<polygon points="775.9,1101.9 810.7,1122 810.7,1081.8 775.9,1061.7" fill="#0e8e12"/>
<path d="M810.7 1122L810.7 1081.8M845.5 1101.9L810.7 1122M775.9 1101.9L775.9 1061.7M810.7 1122L810.7 1081.8" stroke="#000" stroke-width="2.4" fill="none" shape-rendering="geometricPrecision"/>
<path d="M775.9 1101.9L810.7 1122" stroke="#f09070" stroke-width="2.5" fill="none" shape-rendering="geometricPrecision"/>
<polygon points="845.5,1061.7 810.7,1081.8 810.7,1012.4 845.5,992.3" fill="#6e6072"/>
<polygon points="775.9,1061.7 810.7,1081.8 810.7,1012.4 775.9,992.3" fill="#0e8e12"/>
<path d="M845.5 1061.7L845.5 992.3M810.7 1081.8L810.7 1012.4M775.9 1061.7L775.9 992.3M810.7 1081.8L810.7 1012.4" stroke="#000" stroke-width="2.4" fill="none" shape-rendering="geometricPrecision"/>
<path d="M845.5 992.3L810.7 1012.4" stroke="#f09070" stroke-width="2.5" fill="none" shape-rendering="geometricPrecision"/>
<polygon points="775.9,992.3 810.7,1012.4 810.7,972.2 775.9,952.1" fill="#0e8e12"/>
<polygon points="810.7,932 845.5,952.1 810.7,972.2 775.9,952.1" fill="url(#g2t)"/>
<path d="M775.9 992.3L775.9 952.1M775.9 952.1L810.7 972.2M810.7 932L845.5 952.1M775.9 952.1L810.7 972.2" stroke="#000" stroke-width="2.4" fill="none" shape-rendering="geometricPrecision"/>
<path d="M810.7 932L775.9 952.1" stroke="#f09070" stroke-width="2.5" fill="none" shape-rendering="geometricPrecision"/>
<polygon points="861.9,923.7 878.3,933.2 878.3,893 861.9,883.5" fill="url(#g2v)"/>
<polygon points="896.7,863.4 913.1,872.9 878.3,893 861.9,883.5" fill="url(#g2t)"/>
<path d="M861.9 923.7L878.3 933.2M861.9 883.5L878.3 893M896.7 863.4L913.1 872.9M861.9 883.5L878.3 893" stroke="#000" stroke-width="2.4" fill="none" shape-rendering="geometricPrecision"/>
<polygon points="810.7,1012.4 827.1,1021.9 827.1,981.7 810.7,972.2" fill="#0e8e12"/>
<polygon points="845.5,952.1 861.9,961.6 827.1,981.7 810.7,972.2" fill="url(#g2t)"/>
<path d="M810.7 1012.4L827.1 1021.9M810.7 972.2L827.1 981.7M845.5 952.1L861.9 961.6M810.7 972.2L827.1 981.7" stroke="#000" stroke-width="2.4" fill="none" shape-rendering="geometricPrecision"/>
<polygon points="1024.4,1017.5 1059.2,1037.6 1059.2,997.4 1024.4,977.3" fill="#aeaeb0"/>
<path d="M1024.4 1017.5L1024.4 977.3M1024.4 1017.5L1059.2 1037.6" stroke="#000" stroke-width="2.4" fill="none" shape-rendering="geometricPrecision"/>
<polygon points="1094.1,977.3 1059.2,997.4 1059.2,928.1 1094.1,908" fill="#6e6072"/>
<polygon points="1024.4,977.3 1059.2,997.4 1059.2,928.1 1024.4,908" fill="#aeaeb0"/>
<path d="M1094.1 977.3L1094.1 908M1059.2 997.4L1059.2 928.1M1024.4 977.3L1024.4 908M1059.2 997.4L1059.2 928.1" stroke="#000" stroke-width="2.4" fill="none" shape-rendering="geometricPrecision"/>
<path d="M1094.1 977.3L1059.2 997.4" stroke="#f09070" stroke-width="2.5" fill="none" shape-rendering="geometricPrecision"/>
<polygon points="1094.1,908 1059.2,928.1 1059.2,887.9 1094.1,867.8" fill="#6e6072"/>
<polygon points="1024.4,908 1059.2,928.1 1059.2,887.9 1024.4,867.8" fill="#aeaeb0"/>
<path d="M1094.1 908L1094.1 867.8M1059.2 928.1L1059.2 887.9M1024.4 908L1024.4 867.8M1059.2 928.1L1059.2 887.9" stroke="#000" stroke-width="2.4" fill="none" shape-rendering="geometricPrecision"/>
<polygon points="1094.1,867.8 1059.2,887.9 1059.2,868.9 1094.1,848.8" fill="#6e6072"/>
<polygon points="1024.4,867.8 1059.2,887.9 1059.2,868.9 1024.4,848.8" fill="#aeaeb0"/>
<path d="M1094.1 867.8L1094.1 848.8M1059.2 887.9L1059.2 868.9M1024.4 867.8L1024.4 848.8M1059.2 887.9L1059.2 868.9" stroke="#000" stroke-width="2.4" fill="none" shape-rendering="geometricPrecision"/>
<path d="M1094.1 848.8L1059.2 868.9" stroke="#f09070" stroke-width="2.5" fill="none" shape-rendering="geometricPrecision"/>
<polygon points="1024.4,848.8 1059.2,868.9 1059.2,828.7 1024.4,808.6" fill="#aeaeb0"/>
<polygon points="1059.2,788.5 1094.1,808.6 1059.2,828.7 1024.4,808.6" fill="url(#g2t)"/>
<path d="M1024.4 848.8L1024.4 808.6M1024.4 808.6L1059.2 828.7M1059.2 788.5L1094.1 808.6M1024.4 808.6L1059.2 828.7" stroke="#000" stroke-width="2.4" fill="none" shape-rendering="geometricPrecision"/>
<path d="M1059.2 788.5L1024.4 808.6" stroke="#f09070" stroke-width="2.5" fill="none" shape-rendering="geometricPrecision"/>
<polygon points="1008,1046 1042.8,1066.1 1008,1086.2 973.2,1066.1" fill="url(#g2t)"/>
<path d="M1008 1046L973.2 1066.1M1008 1046L1042.8 1066.1" stroke="#000" stroke-width="2.4" fill="none" shape-rendering="geometricPrecision"/>
<polygon points="1008,1126.4 948,1161 948,1120.8 1008,1086.2" fill="#6e6072"/>
<polygon points="973.2,1066.1 1008,1086.2 948,1120.8 913.1,1100.7" fill="url(#g2t)"/>
<path d="M1008 1126.4L948 1161M1008 1086.2L948 1120.8M973.2 1066.1L913.1 1100.7M1008 1086.2L948 1120.8" stroke="#000" stroke-width="2.4" fill="none" shape-rendering="geometricPrecision"/>
<path d="M1008 1126.4L1008 1086.2" stroke="#f09070" stroke-width="2.5" fill="none" shape-rendering="geometricPrecision"/>
<polygon points="948,1161 913.1,1181.1 913.1,1140.9 948,1120.8" fill="#6e6072"/>
<polygon points="913.1,1100.7 948,1120.8 913.1,1140.9 878.3,1120.8" fill="url(#g2t)"/>
<path d="M948 1161L913.1 1181.1M948 1120.8L913.1 1140.9M913.1 1100.7L878.3 1120.8M948 1120.8L913.1 1140.9" stroke="#000" stroke-width="2.4" fill="none" shape-rendering="geometricPrecision"/>
<polygon points="878.3,933.2 913.1,953.3 913.1,913.1 878.3,893" fill="url(#g2v)"/>
<polygon points="913.1,872.9 948,893 913.1,913.1 878.3,893" fill="url(#g2t)"/>
<path d="M878.3 933.2L913.1 953.3M878.3 893L913.1 913.1M913.1 872.9L948 893M878.3 893L913.1 913.1" stroke="#000" stroke-width="2.4" fill="none" shape-rendering="geometricPrecision"/>
<polygon points="913.1,1181.1 896.7,1190.6 896.7,1150.4 913.1,1140.9" fill="#6e6072"/>
<polygon points="878.3,1120.8 913.1,1140.9 896.7,1150.4 861.9,1130.3" fill="url(#g2t)"/>
<path d="M913.1 1181.1L896.7 1190.6M913.1 1140.9L896.7 1150.4M878.3 1120.8L861.9 1130.3M913.1 1140.9L896.7 1150.4" stroke="#000" stroke-width="2.4" fill="none" shape-rendering="geometricPrecision"/>
<path d="M896.7 1190.6L896.7 1150.4" stroke="#f09070" stroke-width="2.5" fill="none" shape-rendering="geometricPrecision"/>
<polygon points="827.1,1190.6 861.9,1210.7 861.9,1170.5 827.1,1150.4" fill="#0e8e12"/>
<polygon points="861.9,1130.3 896.7,1150.4 861.9,1170.5 827.1,1150.4" fill="url(#g2t)"/>
<path d="M827.1 1190.6L861.9 1210.7M827.1 1150.4L861.9 1170.5M861.9 1130.3L827.1 1150.4M827.1 1150.4L861.9 1170.5" stroke="#000" stroke-width="2.4" fill="none" shape-rendering="geometricPrecision"/>
<path d="M827.1 1190.6L827.1 1150.4" stroke="#f09070" stroke-width="2.5" fill="none" shape-rendering="geometricPrecision"/>
<polygon points="827.1,1021.9 861.9,1042 861.9,1001.8 827.1,981.7" fill="#0e8e12"/>
<polygon points="861.9,961.6 896.7,981.7 861.9,1001.8 827.1,981.7" fill="url(#g2t)"/>
<path d="M827.1 1021.9L861.9 1042M827.1 981.7L861.9 1001.8M861.9 961.6L896.7 981.7M827.1 981.7L861.9 1001.8" stroke="#000" stroke-width="2.4" fill="none" shape-rendering="geometricPrecision"/>
<polygon points="1059.2,1037.6 1119.3,1072.3 1119.3,1032.1 1059.2,997.4" fill="#aeaeb0"/>
<polygon points="1094.1,977.3 1154.1,1012 1119.3,1032.1 1059.2,997.4" fill="url(#g2t)"/>
<path d="M1059.2 1037.6L1119.3 1072.3M1059.2 997.4L1119.3 1032.1M1094.1 977.3L1154.1 1012M1059.2 997.4L1119.3 1032.1" stroke="#000" stroke-width="2.4" fill="none" shape-rendering="geometricPrecision"/>
<path d="M1094.1 977.3L1059.2 997.4" stroke="#f09070" stroke-width="2.5" fill="none" shape-rendering="geometricPrecision"/>
<polygon points="1059.2,868.9 1119.3,903.6 1119.3,863.4 1059.2,828.7" fill="#aeaeb0"/>
<polygon points="1094.1,808.6 1154.1,843.3 1119.3,863.4 1059.2,828.7" fill="url(#g2t)"/>
<path d="M1059.2 868.9L1119.3 903.6M1059.2 828.7L1119.3 863.4M1094.1 808.6L1154.1 843.3M1059.2 828.7L1119.3 863.4" stroke="#000" stroke-width="2.4" fill="none" shape-rendering="geometricPrecision"/>
<path d="M1119.3 903.6L1119.3 863.4" stroke="#f09070" stroke-width="2.5" fill="none" shape-rendering="geometricPrecision"/>
<polygon points="1008,1126.4 1068,1161 1068,1120.8 1008,1086.2" fill="#aeaeb0"/>
<polygon points="1042.8,1066.1 1102.9,1100.7 1068,1120.8 1008,1086.2" fill="url(#g2t)"/>
<path d="M1008 1126.4L1068 1161M1008 1086.2L1068 1120.8M1042.8 1066.1L1102.9 1100.7M1008 1086.2L1068 1120.8" stroke="#000" stroke-width="2.4" fill="none" shape-rendering="geometricPrecision"/>
<path d="M1008 1126.4L1008 1086.2" stroke="#f09070" stroke-width="2.5" fill="none" shape-rendering="geometricPrecision"/>
<polygon points="913.1,953.3 973.2,987.9 973.2,947.7 913.1,913.1" fill="url(#g2v)"/>
<polygon points="948,893 1008,927.6 973.2,947.7 913.1,913.1" fill="url(#g2t)"/>
<path d="M913.1 953.3L973.2 987.9M913.1 913.1L973.2 947.7M948 893L1008 927.6M913.1 913.1L973.2 947.7" stroke="#000" stroke-width="2.4" fill="none" shape-rendering="geometricPrecision"/>
<polygon points="861.9,1210.7 921.9,1245.4 921.9,1205.2 861.9,1170.5" fill="#0e8e12"/>
<polygon points="896.7,1150.4 956.8,1185.1 921.9,1205.2 861.9,1170.5" fill="url(#g2t)"/>
<path d="M861.9 1210.7L921.9 1245.4M861.9 1170.5L921.9 1205.2M896.7 1150.4L956.8 1185.1M861.9 1170.5L921.9 1205.2" stroke="#000" stroke-width="2.4" fill="none" shape-rendering="geometricPrecision"/>
<path d="M956.8 1185.1L921.9 1205.2" stroke="#f09070" stroke-width="2.5" fill="none" shape-rendering="geometricPrecision"/>
<polygon points="861.9,1042 921.9,1076.7 921.9,1036.5 861.9,1001.8" fill="#0e8e12"/>
<polygon points="896.7,981.7 956.8,1016.4 921.9,1036.5 861.9,1001.8" fill="url(#g2t)"/>
<path d="M861.9 1042L921.9 1076.7M861.9 1001.8L921.9 1036.5M896.7 981.7L956.8 1016.4M861.9 1001.8L921.9 1036.5" stroke="#000" stroke-width="2.4" fill="none" shape-rendering="geometricPrecision"/>
<polygon points="1119.3,1072.3 1154.1,1092.4 1154.1,1052.2 1119.3,1032.1" fill="#aeaeb0"/>
<polygon points="1154.1,1012 1188.9,1032.1 1154.1,1052.2 1119.3,1032.1" fill="url(#g2t)"/>
<path d="M1119.3 1072.3L1154.1 1092.4M1119.3 1032.1L1154.1 1052.2M1154.1 1012L1188.9 1032.1M1119.3 1032.1L1154.1 1052.2" stroke="#000" stroke-width="2.4" fill="none" shape-rendering="geometricPrecision"/>
<polygon points="1188.9,903.6 1154.1,923.7 1154.1,883.5 1188.9,863.4" fill="#6e6072"/>
<polygon points="1154.1,843.3 1188.9,863.4 1154.1,883.5 1119.3,863.4" fill="url(#g2t)"/>
<path d="M1188.9 903.6L1154.1 923.7M1188.9 863.4L1154.1 883.5M1188.9 863.4L1154.1 883.5M1154.1 843.3L1188.9 863.4" stroke="#000" stroke-width="2.4" fill="none" shape-rendering="geometricPrecision"/>
<path d="M1188.9 903.6L1188.9 863.4" stroke="#f09070" stroke-width="2.5" fill="none" shape-rendering="geometricPrecision"/>
<polygon points="1154.1,923.7 1137.7,933.2 1137.7,893 1154.1,883.5" fill="#6e6072"/>
<polygon points="1119.3,863.4 1154.1,883.5 1137.7,893 1102.9,872.9" fill="url(#g2t)"/>
<path d="M1154.1 923.7L1137.7 933.2M1154.1 883.5L1137.7 893M1119.3 863.4L1102.9 872.9M1154.1 883.5L1137.7 893" stroke="#000" stroke-width="2.4" fill="none" shape-rendering="geometricPrecision"/>
<polygon points="1068,1161 1102.9,1181.1 1102.9,1140.9 1068,1120.8" fill="#aeaeb0"/>
<polygon points="1102.9,1100.7 1137.7,1120.8 1102.9,1140.9 1068,1120.8" fill="url(#g2t)"/>
<path d="M1068 1161L1102.9 1181.1M1068 1120.8L1102.9 1140.9M1102.9 1100.7L1137.7 1120.8M1068 1120.8L1102.9 1140.9" stroke="#000" stroke-width="2.4" fill="none" shape-rendering="geometricPrecision"/>
<polygon points="1137.7,933.2 1102.9,953.3 1102.9,913.1 1137.7,893" fill="#6e6072"/>
<polygon points="1102.9,872.9 1137.7,893 1102.9,913.1 1068,893" fill="url(#g2t)"/>
<path d="M1137.7 933.2L1102.9 953.3M1137.7 893L1102.9 913.1M1102.9 872.9L1068 893M1137.7 893L1102.9 913.1" stroke="#000" stroke-width="2.4" fill="none" shape-rendering="geometricPrecision"/>
<polygon points="1102.9,953.3 1042.8,987.9 1042.8,947.7 1102.9,913.1" fill="#6e6072"/>
<polygon points="1068,893 1102.9,913.1 1042.8,947.7 1008,927.6" fill="url(#g2t)"/>
<path d="M1102.9 953.3L1042.8 987.9M1102.9 913.1L1042.8 947.7M1068 893L1008 927.6M1102.9 913.1L1042.8 947.7" stroke="#000" stroke-width="2.4" fill="none" shape-rendering="geometricPrecision"/>
<polygon points="1042.8,987.9 1008,1008 1008,967.8 1042.8,947.7" fill="#6e6072"/>
<polygon points="973.2,987.9 1008,1008 1008,967.8 973.2,947.7" fill="url(#g2v)"/>
<polygon points="1008,927.6 1042.8,947.7 1008,967.8 973.2,947.7" fill="url(#g2t)"/>
<path d="M1042.8 987.9L1008 1008M1042.8 947.7L1008 967.8M973.2 987.9L1008 1008M973.2 947.7L1008 967.8M1042.8 947.7L1008 967.8M973.2 947.7L1008 967.8" stroke="#000" stroke-width="2.4" fill="none" shape-rendering="geometricPrecision"/>
<path d="M1008 1008L1008 967.8M1008 1008L1008 967.8" stroke="#f09070" stroke-width="2.5" fill="none" shape-rendering="geometricPrecision"/>
<polygon points="991.6,1245.4 956.8,1265.5 956.8,1225.3 991.6,1205.2" fill="#6e6072"/>
<polygon points="921.9,1245.4 956.8,1265.5 956.8,1225.3 921.9,1205.2" fill="#0e8e12"/>
<path d="M991.6 1245.4L991.6 1205.2M956.8 1265.5L956.8 1225.3M956.8 1265.5L956.8 1225.3M921.9 1245.4L956.8 1265.5" stroke="#000" stroke-width="2.4" fill="none" shape-rendering="geometricPrecision"/>
<path d="M991.6 1245.4L956.8 1265.5" stroke="#f09070" stroke-width="2.5" fill="none" shape-rendering="geometricPrecision"/>
<polygon points="991.6,1205.2 956.8,1225.3 956.8,1206.3 991.6,1186.2" fill="#6e6072"/>
<polygon points="921.9,1205.2 956.8,1225.3 956.8,1206.3 921.9,1186.2" fill="#0e8e12"/>
<path d="M991.6 1205.2L991.6 1186.2M956.8 1225.3L956.8 1206.3M921.9 1205.2L921.9 1186.2M956.8 1225.3L956.8 1206.3" stroke="#000" stroke-width="2.4" fill="none" shape-rendering="geometricPrecision"/>
<polygon points="991.6,1186.2 956.8,1206.3 956.8,1166.1 991.6,1146" fill="#6e6072"/>
<polygon points="921.9,1186.2 956.8,1206.3 956.8,1166.1 921.9,1146" fill="#0e8e12"/>
<path d="M991.6 1186.2L991.6 1146M956.8 1206.3L956.8 1166.1M921.9 1186.2L921.9 1146M956.8 1206.3L956.8 1166.1" stroke="#000" stroke-width="2.4" fill="none" shape-rendering="geometricPrecision"/>
<polygon points="991.6,1146 956.8,1166.1 956.8,1096.8 991.6,1076.7" fill="#6e6072"/>
<polygon points="921.9,1146 956.8,1166.1 956.8,1096.8 921.9,1076.7" fill="#0e8e12"/>
<path d="M991.6 1146L991.6 1076.7M956.8 1166.1L956.8 1096.8M921.9 1146L921.9 1076.7M956.8 1166.1L956.8 1096.8" stroke="#000" stroke-width="2.4" fill="none" shape-rendering="geometricPrecision"/>
<polygon points="991.6,1076.7 956.8,1096.8 956.8,1056.6 991.6,1036.5" fill="#6e6072"/>
<polygon points="921.9,1076.7 956.8,1096.8 956.8,1056.6 921.9,1036.5" fill="#0e8e12"/>
<polygon points="956.8,1016.4 991.6,1036.5 956.8,1056.6 921.9,1036.5" fill="url(#g2t)"/>
<path d="M991.6 1076.7L991.6 1036.5M956.8 1096.8L956.8 1056.6M956.8 1096.8L956.8 1056.6M921.9 1036.5L956.8 1056.6M956.8 1016.4L991.6 1036.5M921.9 1036.5L956.8 1056.6" stroke="#000" stroke-width="2.4" fill="none" shape-rendering="geometricPrecision"/>
<path d="M991.6 1036.5L956.8 1056.6M991.6 1036.5L956.8 1056.6" stroke="#f09070" stroke-width="2.5" fill="none" shape-rendering="geometricPrecision"/>
<polygon points="1154.1,1092.4 1170.5,1101.9 1170.5,1061.7 1154.1,1052.2" fill="#aeaeb0"/>
<polygon points="1188.9,1032.1 1205.3,1041.6 1170.5,1061.7 1154.1,1052.2" fill="url(#g2t)"/>
<path d="M1154.1 1092.4L1170.5 1101.9M1154.1 1052.2L1170.5 1061.7M1188.9 1032.1L1205.3 1041.6M1154.1 1052.2L1170.5 1061.7" stroke="#000" stroke-width="2.4" fill="none" shape-rendering="geometricPrecision"/>
<path d="M1205.3 1041.6L1170.5 1061.7" stroke="#f09070" stroke-width="2.5" fill="none" shape-rendering="geometricPrecision"/>
<polygon points="1102.9,1181.1 1119.3,1190.6 1119.3,1150.4 1102.9,1140.9" fill="#aeaeb0"/>
<polygon points="1137.7,1120.8 1154.1,1130.3 1119.3,1150.4 1102.9,1140.9" fill="url(#g2t)"/>
<path d="M1102.9 1181.1L1119.3 1190.6M1102.9 1140.9L1119.3 1150.4M1137.7 1120.8L1154.1 1130.3M1102.9 1140.9L1119.3 1150.4" stroke="#000" stroke-width="2.4" fill="none" shape-rendering="geometricPrecision"/>
<path d="M1119.3 1190.6L1119.3 1150.4" stroke="#f09070" stroke-width="2.5" fill="none" shape-rendering="geometricPrecision"/>
<polygon points="1240.1,1101.9 1205.3,1122 1205.3,1081.8 1240.1,1061.7" fill="#6e6072"/>
<polygon points="1170.5,1101.9 1205.3,1122 1205.3,1081.8 1170.5,1061.7" fill="#aeaeb0"/>
<path d="M1240.1 1101.9L1240.1 1061.7M1205.3 1122L1205.3 1081.8M1205.3 1122L1205.3 1081.8M1170.5 1101.9L1205.3 1122" stroke="#000" stroke-width="2.4" fill="none" shape-rendering="geometricPrecision"/>
<path d="M1240.1 1101.9L1205.3 1122" stroke="#f09070" stroke-width="2.5" fill="none" shape-rendering="geometricPrecision"/>
<polygon points="1240.1,1061.7 1205.3,1081.8 1205.3,1012.4 1240.1,992.3" fill="#6e6072"/>
<polygon points="1170.5,1061.7 1205.3,1081.8 1205.3,1012.4 1170.5,992.3" fill="#aeaeb0"/>
<path d="M1240.1 1061.7L1240.1 992.3M1205.3 1081.8L1205.3 1012.4M1170.5 1061.7L1170.5 992.3M1205.3 1081.8L1205.3 1012.4" stroke="#000" stroke-width="2.4" fill="none" shape-rendering="geometricPrecision"/>
<path d="M1170.5 992.3L1205.3 1012.4" stroke="#f09070" stroke-width="2.5" fill="none" shape-rendering="geometricPrecision"/>
<polygon points="1240.1,992.3 1205.3,1012.4 1205.3,972.2 1240.1,952.1" fill="#6e6072"/>
<polygon points="1205.3,932 1240.1,952.1 1205.3,972.2 1170.5,952.1" fill="url(#g2t)"/>
<path d="M1240.1 992.3L1240.1 952.1M1240.1 952.1L1205.3 972.2M1205.3 932L1170.5 952.1M1240.1 952.1L1205.3 972.2" stroke="#000" stroke-width="2.4" fill="none" shape-rendering="geometricPrecision"/>
<path d="M1205.3 932L1240.1 952.1" stroke="#f09070" stroke-width="2.5" fill="none" shape-rendering="geometricPrecision"/>
<polygon points="1205.3,1012.4 1188.9,1021.9 1188.9,981.7 1205.3,972.2" fill="#6e6072"/>
<polygon points="1170.5,952.1 1205.3,972.2 1188.9,981.7 1154.1,961.6" fill="url(#g2t)"/>
<path d="M1205.3 1012.4L1188.9 1021.9M1205.3 972.2L1188.9 981.7M1170.5 952.1L1154.1 961.6M1205.3 972.2L1188.9 981.7" stroke="#000" stroke-width="2.4" fill="none" shape-rendering="geometricPrecision"/>
<polygon points="1188.9,1190.6 1154.1,1210.7 1154.1,1170.5 1188.9,1150.4" fill="#6e6072"/>
<polygon points="1154.1,1130.3 1188.9,1150.4 1154.1,1170.5 1119.3,1150.4" fill="url(#g2t)"/>
<path d="M1188.9 1190.6L1154.1 1210.7M1188.9 1150.4L1154.1 1170.5M1188.9 1150.4L1154.1 1170.5M1154.1 1130.3L1188.9 1150.4" stroke="#000" stroke-width="2.4" fill="none" shape-rendering="geometricPrecision"/>
<path d="M1188.9 1190.6L1188.9 1150.4" stroke="#f09070" stroke-width="2.5" fill="none" shape-rendering="geometricPrecision"/>
<polygon points="1188.9,1021.9 1154.1,1042 1154.1,1001.8 1188.9,981.7" fill="#6e6072"/>
<polygon points="1154.1,961.6 1188.9,981.7 1154.1,1001.8 1119.3,981.7" fill="url(#g2t)"/>
<path d="M1188.9 1021.9L1154.1 1042M1188.9 981.7L1154.1 1001.8M1154.1 961.6L1119.3 981.7M1188.9 981.7L1154.1 1001.8" stroke="#000" stroke-width="2.4" fill="none" shape-rendering="geometricPrecision"/>
<polygon points="1154.1,1210.7 1094.1,1245.4 1094.1,1205.2 1154.1,1170.5" fill="#6e6072"/>
<polygon points="1119.3,1150.4 1154.1,1170.5 1094.1,1205.2 1059.2,1185.1" fill="url(#g2t)"/>
<path d="M1154.1 1210.7L1094.1 1245.4M1154.1 1170.5L1094.1 1205.2M1119.3 1150.4L1059.2 1185.1M1154.1 1170.5L1094.1 1205.2" stroke="#000" stroke-width="2.4" fill="none" shape-rendering="geometricPrecision"/>
<path d="M1059.2 1185.1L1094.1 1205.2" stroke="#f09070" stroke-width="2.5" fill="none" shape-rendering="geometricPrecision"/>
<polygon points="1154.1,1042 1094.1,1076.7 1094.1,1036.5 1154.1,1001.8" fill="#6e6072"/>
<polygon points="1119.3,981.7 1154.1,1001.8 1094.1,1036.5 1059.2,1016.4" fill="url(#g2t)"/>
<path d="M1154.1 1042L1094.1 1076.7M1154.1 1001.8L1094.1 1036.5M1119.3 981.7L1059.2 1016.4M1154.1 1001.8L1094.1 1036.5" stroke="#000" stroke-width="2.4" fill="none" shape-rendering="geometricPrecision"/>
<polygon points="1094.1,1245.4 1059.2,1265.5 1059.2,1225.3 1094.1,1205.2" fill="#6e6072"/>
<polygon points="1024.4,1245.4 1059.2,1265.5 1059.2,1225.3 1024.4,1205.2" fill="url(#g2x)"/>
<path d="M1059.2 1265.5L1059.2 1225.3M1094.1 1245.4L1059.2 1265.5M1024.4 1245.4L1024.4 1205.2M1059.2 1265.5L1059.2 1225.3" stroke="#000" stroke-width="2.4" fill="none" shape-rendering="geometricPrecision"/>
<path d="M1024.4 1245.4L1059.2 1265.5" stroke="#f09070" stroke-width="2.5" fill="none" shape-rendering="geometricPrecision"/>
<polygon points="1094.1,1205.2 1059.2,1225.3 1059.2,1206.3 1094.1,1186.2" fill="#6e6072"/>
<polygon points="1024.4,1205.2 1059.2,1225.3 1059.2,1206.3 1024.4,1186.2" fill="url(#g2x)"/>
<path d="M1094.1 1205.2L1094.1 1186.2M1059.2 1225.3L1059.2 1206.3M1024.4 1205.2L1024.4 1186.2M1059.2 1225.3L1059.2 1206.3" stroke="#000" stroke-width="2.4" fill="none" shape-rendering="geometricPrecision"/>
<polygon points="1094.1,1186.2 1059.2,1206.3 1059.2,1166.1 1094.1,1146" fill="#6e6072"/>
<polygon points="1024.4,1186.2 1059.2,1206.3 1059.2,1166.1 1024.4,1146" fill="url(#g2x)"/>
<path d="M1094.1 1186.2L1094.1 1146M1059.2 1206.3L1059.2 1166.1M1024.4 1186.2L1024.4 1146M1059.2 1206.3L1059.2 1166.1" stroke="#000" stroke-width="2.4" fill="none" shape-rendering="geometricPrecision"/>
<polygon points="1094.1,1146 1059.2,1166.1 1059.2,1096.8 1094.1,1076.7" fill="#6e6072"/>
<polygon points="1024.4,1146 1059.2,1166.1 1059.2,1096.8 1024.4,1076.7" fill="url(#g2x)"/>
<path d="M1094.1 1146L1094.1 1076.7M1059.2 1166.1L1059.2 1096.8M1024.4 1146L1024.4 1076.7M1059.2 1166.1L1059.2 1096.8" stroke="#000" stroke-width="2.4" fill="none" shape-rendering="geometricPrecision"/>
<polygon points="1094.1,1076.7 1059.2,1096.8 1059.2,1056.6 1094.1,1036.5" fill="#6e6072"/>
<polygon points="1024.4,1076.7 1059.2,1096.8 1059.2,1056.6 1024.4,1036.5" fill="url(#g2x)"/>
<polygon points="1059.2,1016.4 1094.1,1036.5 1059.2,1056.6 1024.4,1036.5" fill="url(#g2t)"/>
<path d="M1059.2 1096.8L1059.2 1056.6M1094.1 1036.5L1059.2 1056.6M1024.4 1076.7L1024.4 1036.5M1059.2 1096.8L1059.2 1056.6M1059.2 1016.4L1024.4 1036.5M1094.1 1036.5L1059.2 1056.6" stroke="#000" stroke-width="2.4" fill="none" shape-rendering="geometricPrecision"/>
<path d="M1024.4 1036.5L1059.2 1056.6M1024.4 1036.5L1059.2 1056.6" stroke="#f09070" stroke-width="2.5" fill="none" shape-rendering="geometricPrecision"/>
</g>
<line x1="991.6" y1="848.8" x2="1024.4" y2="848.8" stroke="#0000dd" stroke-width="2.2" stroke-linecap="round"/>
<line x1="1170.5" y1="1101.9" x2="1154.1" y2="1130.3" stroke="#0000dd" stroke-width="2.2" stroke-linecap="round"/>
<line x1="845.5" y1="1101.9" x2="861.9" y2="1130.3" stroke="#0000dd" stroke-width="2.2" stroke-linecap="round"/>
<line x1="1142.9" y1="930.1" x2="1159.4" y2="958.6" stroke="#0000dd" stroke-width="2.2" stroke-linecap="round"/>
<line x1="873.1" y1="930.1" x2="856.6" y2="958.6" stroke="#0000dd" stroke-width="2.2" stroke-linecap="round"/>
<line x1="991.6" y1="1177.6" x2="1024.4" y2="1177.6" stroke="#0000dd" stroke-width="2.2" stroke-linecap="round"/>
</g>
<g id="v2dim">
<line x1="1051" y1="867" x2="1162" y2="803" stroke="#2424dc" stroke-width="1.15" />
<polygon points="1087.4,846.6 1070.1,860.6 1066.6,854.6" fill="#0a0af0"/>
<polygon points="1126,825 1143.3,811 1146.8,817" fill="#0a0af0"/>
<text transform="translate(1092 836) rotate(-30) scale(0.72 1)" font-family="'Liberation Serif',serif" font-style="italic" font-size="34" fill="#0000e0" text-anchor="middle">C</text>
<line x1="1191" y1="901" x2="1251" y2="868" stroke="#2424dc" stroke-width="1.15" />
<line x1="1207" y1="931" x2="1268" y2="896" stroke="#2424dc" stroke-width="1.15" />
<line x1="1220" y1="823" x2="1291" y2="945" stroke="#2424dc" stroke-width="1.15" />
<polygon points="1248,869 1234,851.7 1240,848.2" fill="#0a0af0"/>
<polygon points="1265,898 1279,915.3 1273,918.8" fill="#0a0af0"/>
<text transform="translate(1266 885) rotate(60) scale(0.8 1)" font-family="'Liberation Serif',serif" font-style="italic" font-size="33" fill="#0000e0" text-anchor="middle">B</text>
</g>
<polygon points="617.2,336 644.3,342.8 644.3,377.2 654.8,380.3 630.8,414.8 606.8,368.6 617.2,371.1" fill="#2a2ac0"/>
<text transform="matrix(1.0 0.24 0 1 617.8 386)" font-family="'Liberation Sans',sans-serif" font-weight="bold" font-size="37" fill="#fff" stroke="#fff" stroke-width="1">Z</text>
<polygon points="825.8,770.7 877.5,768.9 874.3,775 907.7,784.2 894.8,797.6 858.7,789 852.8,793.3" fill="#f01010"/>
<text transform="matrix(0.918 -0.894 1.859 0.498 880.1 785.7)" font-family="'Liberation Sans',sans-serif" font-weight="bold" font-size="21" fill="#fff" stroke="#fff" stroke-width="1.0" text-anchor="middle">X</text>
<polygon points="493.1,846.9 447.7,861.5 456.9,864.6 439.2,883.1 465.4,890.8 486.2,871.9 495.4,875" fill="#20cc20"/>
<text transform="matrix(1.627 0.436 -1.07 1.04 461.4 876.1)" font-family="'Liberation Sans',sans-serif" font-weight="bold" font-size="23" fill="#fff" stroke="#fff" stroke-width="0.8" text-anchor="middle">Y</text>
<text y="60" text-anchor="middle" font-family="'Liberation Serif','Noto Serif CJK SC',serif" font-size="30" fill="#e01818" ><tspan x="506.8 538.8 570.8 595 611.5">练习题(3</tspan><tspan x="620.2" text-anchor="start" textLength="15.7" lengthAdjust="spacingAndGlyphs">D</tspan><tspan x="644.5 661 677.5">15-</tspan><tspan x="686.2" text-anchor="start" textLength="15.7" lengthAdjust="spacingAndGlyphs">M</tspan><tspan x="710.5 727 743.5">04)</tspan></text>
<text transform="translate(258.9 65.8) scale(1.413 1)" font-family="'Liberation Sans',sans-serif" font-weight="bold" font-size="84.9" fill="#1212f0" stroke="#1212f0" stroke-width="4" stroke-linejoin="miter" text-anchor="middle">Z</text>
<text transform="translate(1018 65.6) scale(1.296 1)" font-family="'Liberation Sans',sans-serif" font-weight="bold" font-size="84.9" fill="#f05010" stroke="#f05010" stroke-width="4" stroke-linejoin="miter" text-anchor="middle">X</text>
<text transform="translate(259.2 908) scale(1.342 1)" font-family="'Liberation Sans',sans-serif" font-weight="bold" font-size="84.9" fill="#10c830" stroke="#10c830" stroke-width="4" stroke-linejoin="miter" text-anchor="middle">Y</text>
<text transform="translate(243.8 673.8) scale(1.166 1)" font-family="'Liberation Sans','Noto Sans CJK SC',sans-serif" font-weight="bold" font-size="24.6" fill="#e01818">3D View I</text>
<text transform="translate(244.5 700.6) skewX(-6)" font-family="'Liberation Serif','Noto Serif CJK SC',serif" font-size="23" fill="#d84030" textLength="139" lengthAdjust="spacing">(立体视角一)</text>
<text transform="translate(718.6 1249.4) scale(1.183 1)" font-family="'Liberation Sans','Noto Sans CJK SC',sans-serif" font-weight="bold" font-size="24.6" fill="#e01818">3D View II</text>
<text transform="translate(724 1276.8) skewX(-6)" font-family="'Liberation Serif','Noto Serif CJK SC',serif" font-size="23" fill="#d84030" textLength="138" lengthAdjust="spacing">(立体视角二)</text>
<rect x="900.6" y="506.4" width="329" height="175.6" rx="16" ry="16" fill="none" stroke="#e02020" stroke-width="3.8"/>
<text y="565.5" text-anchor="middle" font-family="'Liberation Serif','Noto Serif CJK SC',serif" font-size="30" fill="#e01818" font-weight="500"><tspan x="982.5 1018 1052 1087">【答案】</tspan></text>
<text y="604.7" text-anchor="middle" font-family="'Liberation Serif','Noto Serif CJK SC',serif" font-size="31" fill="#e01818" ><tspan x="979.5 1004.2 1029 1045.5 1062 1078.5 1095 1111.5">1、3338.6</tspan></text>
<text y="642" text-anchor="middle" font-family="'Liberation Serif','Noto Serif CJK SC',serif" font-size="31" fill="#e01818" ><tspan x="979.5 1004.2 1029 1045.5 1062 1078.5 1095 1111.5 1128 1144.5 1161">2、225066.23</tspan></text>
<text x="559.5" y="1085.8" font-family="'Liberation Sans','Noto Sans CJK SC',sans-serif" font-size="26.6" fill="#80308e" textLength="167.5" lengthAdjust="spacing" >green surface</text>
<text y="1113.8" text-anchor="middle" font-family="'Liberation Sans','Noto Sans CJK SC',sans-serif" font-size="24.5" fill="#80308e" ><tspan x="572.1 598.4 624.7">绿色面</tspan></text>
<line x1="730.4" y1="1074.6" x2="781" y2="1013" stroke="#7a3f8a" stroke-width="1.2"/>
<line x1="781" y1="1013" x2="789.2" y2="1003" stroke="#7a3f8a" stroke-width="1.2" stroke-dasharray="2 2"/>
<circle cx="789.2" cy="1003" r="1.6" fill="#7a3f8a"/>
<text y="1376.5" text-anchor="middle" font-family="'Liberation Serif','Noto Serif CJK SC',serif" font-size="28" fill="#111" font-weight="500"><tspan x="42.8 78.9 109.5 141.1 170.7 201.3 231.9 262.5 293.1 323.7 354.3 384.9 415.5 446.1 476.7 507.3 537.9 568.5 599.1">【注意】其中阵列、对称相等等几何关系。</tspan></text>
<text y="1415" text-anchor="middle" font-family="'Liberation Serif','Noto Serif CJK SC',serif" font-size="28" fill="#111" font-weight="500"><tspan x="42.8 78.9 109.5 141.1 170.7 201.3 231.9 262.5 293.1 323.7 354.3 384.9 415.5 446.1 476.7 507.3 537.9 568.5 599.1">【其他】同色短线长度相等。（题图为示意</tspan></text>
<text y="1453.5" text-anchor="middle" font-family="'Liberation Serif','Noto Serif CJK SC',serif" font-size="28" fill="#111" font-weight="500"><tspan x="48.3 78.9 109.5 140.1 170.7 201.3 231.9 262.5 293.1 323.7 354.3 384.9 415.5 446.1 476.7 507.3 537.9 568.5 599.1 629.7">图，只用于表达尺寸和几何关系，由于参数变</tspan></text>
<text y="1491.5" text-anchor="middle" font-family="'Liberation Serif','Noto Serif CJK SC',serif" font-size="28" fill="#111" font-weight="500"><tspan x="48.3 78.9 109.5 140.1 170.7 201.3 231.9 262.5 293.1 323.7 354.3">化，其形态会有所变化）</tspan></text>
<text y="1377" text-anchor="middle" font-family="'Liberation Serif','Noto Serif CJK SC',serif" font-size="28" fill="#e01818" font-weight="bold"><tspan x="726.2 759.8 792.2 827.8">【参数】</tspan></text>
<text y="1377" text-anchor="middle" font-family="'Liberation Serif','Noto Serif CJK SC',serif" font-size="28" fill="#e01818" ><tspan x="841.4" text-anchor="start" textLength="15.6" lengthAdjust="spacingAndGlyphs">A</tspan><tspan x="857.8" text-anchor="start" textLength="15.6" lengthAdjust="spacingAndGlyphs">=</tspan><tspan x="882 898.4 914.8 939.4">100，</tspan><tspan x="956.2" text-anchor="start" textLength="15.6" lengthAdjust="spacingAndGlyphs">B</tspan><tspan x="972.6" text-anchor="start" textLength="15.6" lengthAdjust="spacingAndGlyphs">=</tspan><tspan x="996.8 1013.2 1037.8">10，</tspan><tspan x="1054.6" text-anchor="start" textLength="15.6" lengthAdjust="spacingAndGlyphs">C</tspan><tspan x="1071" text-anchor="start" textLength="15.6" lengthAdjust="spacingAndGlyphs">=</tspan><tspan x="1095.2 1111.6">15</tspan></text>
<text y="1416.5" text-anchor="middle" font-family="'Liberation Serif','Noto Serif CJK SC',serif" font-size="28" fill="#111" font-weight="500"><tspan x="726.3 759.9 790.5 822.6">【问题】</tspan></text>
<text y="1455" text-anchor="middle" font-family="'Liberation Serif','Noto Serif CJK SC',serif" font-size="28" fill="#111" font-weight="500"><tspan x="720.6 743.6 774.2 804.8 835.4 866 896.6 927.2 957.8 988.4 1019 1049.6 1080.2 1110.8 1141.4 1172 1202.6">1、请问图中绿色区域的面积是多少？</tspan></text>
<text y="1493.5" text-anchor="middle" font-family="'Liberation Serif','Noto Serif CJK SC',serif" font-size="28" fill="#111" font-weight="500"><tspan x="720.6 743.6 774.2 804.8 835.4 866 896.6 927.2 957.8 988.4 1019 1049.6">2、请问模型体积是多少？</tspan></text>
</svg></body></html>
